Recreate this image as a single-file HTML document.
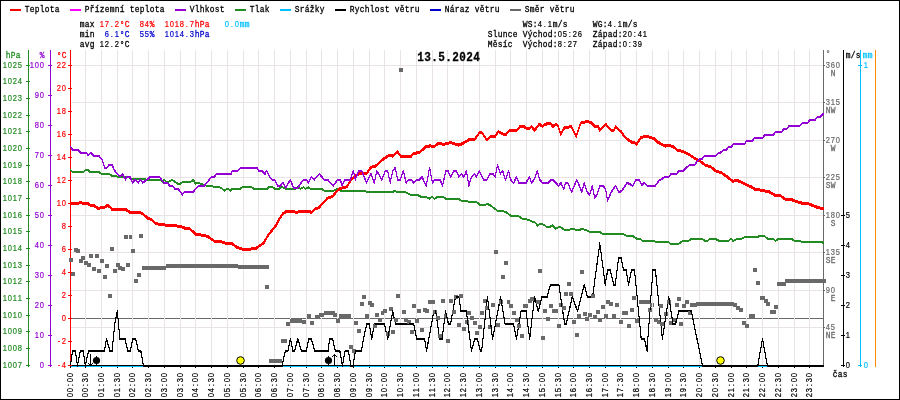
<!DOCTYPE html>
<html lang="cs"><head><meta charset="utf-8"><title>Meteogram 13.5.2024</title>
<style>html,body{margin:0;padding:0;background:#fff;overflow:hidden}svg{display:block}text{font-family:"Liberation Mono", "DejaVu Sans Mono", monospace;font-size:9px;letter-spacing:0.28px;font-weight:normal;white-space:pre;stroke-width:0.3px}.g{stroke-width:0.28px}.t{font-size:12.5px;letter-spacing:0.45px;font-weight:bold;stroke-width:0.3px}.x{stroke-width:0.25px}.n{font-family:"Liberation Sans",sans-serif;letter-spacing:0;font-size:8.6px;stroke-width:0.2px}</style></head><body>
<svg width="900" height="400" viewBox="0 0 900 400">
<rect x="0" y="0" width="900" height="400" fill="#fff"/>
<g shape-rendering="crispEdges">
<rect x="71" y="65" width="752" height="1" fill="#e9e3e3"/>
<rect x="71" y="102" width="752" height="1" fill="#e9e3e3"/>
<rect x="71" y="140" width="752" height="1" fill="#e9e3e3"/>
<rect x="71" y="177" width="752" height="1" fill="#e9e3e3"/>
<rect x="71" y="215" width="752" height="1" fill="#e9e3e3"/>
<rect x="71" y="252" width="752" height="1" fill="#e9e3e3"/>
<rect x="71" y="290" width="752" height="1" fill="#e9e3e3"/>
<rect x="71" y="327" width="752" height="1" fill="#e9e3e3"/>
<rect x="71" y="318" width="752" height="1" fill="#696969"/>
<rect x="85" y="50" width="1" height="315" fill="#e9e3e3"/>
<rect x="101" y="50" width="1" height="315" fill="#e9e3e3"/>
<rect x="117" y="50" width="1" height="315" fill="#e9e3e3"/>
<rect x="132" y="50" width="1" height="315" fill="#e9e3e3"/>
<rect x="148" y="50" width="1" height="315" fill="#e9e3e3"/>
<rect x="164" y="50" width="1" height="315" fill="#e9e3e3"/>
<rect x="180" y="50" width="1" height="315" fill="#e9e3e3"/>
<rect x="195" y="50" width="1" height="315" fill="#e9e3e3"/>
<rect x="211" y="50" width="1" height="315" fill="#e9e3e3"/>
<rect x="227" y="50" width="1" height="315" fill="#e9e3e3"/>
<rect x="243" y="50" width="1" height="315" fill="#e9e3e3"/>
<rect x="258" y="50" width="1" height="315" fill="#e9e3e3"/>
<rect x="274" y="50" width="1" height="315" fill="#e9e3e3"/>
<rect x="290" y="50" width="1" height="315" fill="#e9e3e3"/>
<rect x="306" y="50" width="1" height="315" fill="#e9e3e3"/>
<rect x="321" y="50" width="1" height="315" fill="#e9e3e3"/>
<rect x="337" y="50" width="1" height="315" fill="#e9e3e3"/>
<rect x="353" y="50" width="1" height="315" fill="#e9e3e3"/>
<rect x="369" y="50" width="1" height="315" fill="#e9e3e3"/>
<rect x="384" y="50" width="1" height="315" fill="#e9e3e3"/>
<rect x="400" y="50" width="1" height="315" fill="#e9e3e3"/>
<rect x="416" y="50" width="1" height="315" fill="#e9e3e3"/>
<rect x="432" y="50" width="1" height="315" fill="#e9e3e3"/>
<rect x="447" y="50" width="1" height="315" fill="#e9e3e3"/>
<rect x="463" y="50" width="1" height="315" fill="#e9e3e3"/>
<rect x="479" y="50" width="1" height="315" fill="#e9e3e3"/>
<rect x="495" y="50" width="1" height="315" fill="#e9e3e3"/>
<rect x="510" y="50" width="1" height="315" fill="#e9e3e3"/>
<rect x="526" y="50" width="1" height="315" fill="#e9e3e3"/>
<rect x="542" y="50" width="1" height="315" fill="#e9e3e3"/>
<rect x="558" y="50" width="1" height="315" fill="#e9e3e3"/>
<rect x="573" y="50" width="1" height="315" fill="#e9e3e3"/>
<rect x="589" y="50" width="1" height="315" fill="#e9e3e3"/>
<rect x="605" y="50" width="1" height="315" fill="#e9e3e3"/>
<rect x="620" y="50" width="1" height="315" fill="#e9e3e3"/>
<rect x="636" y="50" width="1" height="315" fill="#e9e3e3"/>
<rect x="652" y="50" width="1" height="315" fill="#e9e3e3"/>
<rect x="668" y="50" width="1" height="315" fill="#e9e3e3"/>
<rect x="683" y="50" width="1" height="315" fill="#e9e3e3"/>
<rect x="699" y="50" width="1" height="315" fill="#e9e3e3"/>
<rect x="715" y="50" width="1" height="315" fill="#e9e3e3"/>
<rect x="731" y="50" width="1" height="315" fill="#e9e3e3"/>
<rect x="746" y="50" width="1" height="315" fill="#e9e3e3"/>
<rect x="762" y="50" width="1" height="315" fill="#e9e3e3"/>
<rect x="778" y="50" width="1" height="315" fill="#e9e3e3"/>
<rect x="794" y="50" width="1" height="315" fill="#e9e3e3"/>
<rect x="809" y="50" width="1" height="315" fill="#e9e3e3"/>
</g>
<g shape-rendering="crispEdges" fill="#696969">
<rect x="69" y="258" width="4" height="4"/>
<rect x="71" y="272" width="4" height="4"/>
<rect x="74" y="248" width="4" height="4"/>
<rect x="76" y="249" width="4" height="4"/>
<rect x="79" y="259" width="4" height="4"/>
<rect x="81" y="256" width="4" height="4"/>
<rect x="84" y="261" width="4" height="4"/>
<rect x="87" y="263" width="4" height="4"/>
<rect x="89" y="254" width="4" height="4"/>
<rect x="92" y="267" width="4" height="4"/>
<rect x="95" y="254" width="4" height="4"/>
<rect x="97" y="269" width="4" height="4"/>
<rect x="100" y="259" width="4" height="4"/>
<rect x="103" y="275" width="4" height="4"/>
<rect x="105" y="264" width="4" height="4"/>
<rect x="108" y="294" width="4" height="4"/>
<rect x="110" y="247" width="4" height="4"/>
<rect x="113" y="269" width="4" height="4"/>
<rect x="116" y="263" width="4" height="4"/>
<rect x="118" y="266" width="4" height="4"/>
<rect x="121" y="267" width="4" height="4"/>
<rect x="124" y="235" width="4" height="4"/>
<rect x="126" y="263" width="4" height="4"/>
<rect x="129" y="235" width="4" height="4"/>
<rect x="131" y="249" width="4" height="4"/>
<rect x="134" y="279" width="4" height="4"/>
<rect x="137" y="273" width="4" height="4"/>
<rect x="139" y="234" width="4" height="4"/>
<rect x="265" y="285" width="4" height="4"/>
<rect x="286" y="322" width="4" height="4"/>
<rect x="302" y="320" width="4" height="4"/>
<rect x="307" y="314" width="4" height="4"/>
<rect x="310" y="321" width="4" height="4"/>
<rect x="333" y="313" width="4" height="4"/>
<rect x="336" y="319" width="4" height="4"/>
<rect x="354" y="321" width="4" height="4"/>
<rect x="357" y="329" width="4" height="4"/>
<rect x="360" y="302" width="4" height="4"/>
<rect x="362" y="295" width="4" height="4"/>
<rect x="365" y="314" width="4" height="4"/>
<rect x="368" y="301" width="4" height="4"/>
<rect x="349" y="345" width="4" height="4"/>
<rect x="352" y="349" width="4" height="4"/>
<rect x="370" y="303" width="4" height="4"/>
<rect x="373" y="324" width="4" height="4"/>
<rect x="375" y="313" width="4" height="4"/>
<rect x="378" y="318" width="4" height="4"/>
<rect x="381" y="311" width="4" height="4"/>
<rect x="383" y="309" width="4" height="4"/>
<rect x="386" y="332" width="4" height="4"/>
<rect x="389" y="307" width="4" height="4"/>
<rect x="391" y="330" width="4" height="4"/>
<rect x="394" y="318" width="4" height="4"/>
<rect x="402" y="310" width="4" height="4"/>
<rect x="404" y="318" width="4" height="4"/>
<rect x="407" y="320" width="4" height="4"/>
<rect x="410" y="330" width="4" height="4"/>
<rect x="412" y="304" width="4" height="4"/>
<rect x="415" y="319" width="4" height="4"/>
<rect x="417" y="309" width="4" height="4"/>
<rect x="420" y="328" width="4" height="4"/>
<rect x="423" y="308" width="4" height="4"/>
<rect x="425" y="309" width="4" height="4"/>
<rect x="433" y="310" width="4" height="4"/>
<rect x="436" y="316" width="4" height="4"/>
<rect x="438" y="334" width="4" height="4"/>
<rect x="441" y="299" width="4" height="4"/>
<rect x="444" y="314" width="4" height="4"/>
<rect x="446" y="339" width="4" height="4"/>
<rect x="449" y="299" width="4" height="4"/>
<rect x="452" y="310" width="4" height="4"/>
<rect x="457" y="323" width="4" height="4"/>
<rect x="462" y="327" width="4" height="4"/>
<rect x="465" y="320" width="4" height="4"/>
<rect x="467" y="311" width="4" height="4"/>
<rect x="470" y="316" width="4" height="4"/>
<rect x="473" y="321" width="4" height="4"/>
<rect x="475" y="331" width="4" height="4"/>
<rect x="478" y="325" width="4" height="4"/>
<rect x="480" y="311" width="4" height="4"/>
<rect x="483" y="299" width="4" height="4"/>
<rect x="485" y="306" width="4" height="4"/>
<rect x="488" y="325" width="4" height="4"/>
<rect x="396" y="294" width="4" height="4"/>
<rect x="459" y="294" width="4" height="4"/>
<rect x="454" y="295" width="4" height="4"/>
<rect x="494" y="250" width="4" height="4"/>
<rect x="491" y="303" width="4" height="4"/>
<rect x="499" y="300" width="4" height="4"/>
<rect x="504" y="261" width="4" height="4"/>
<rect x="501" y="275" width="4" height="4"/>
<rect x="507" y="300" width="4" height="4"/>
<rect x="509" y="304" width="4" height="4"/>
<rect x="528" y="299" width="4" height="4"/>
<rect x="530" y="297" width="4" height="4"/>
<rect x="536" y="300" width="4" height="4"/>
<rect x="538" y="269" width="4" height="4"/>
<rect x="549" y="304" width="4" height="4"/>
<rect x="559" y="303" width="4" height="4"/>
<rect x="564" y="292" width="4" height="4"/>
<rect x="567" y="282" width="4" height="4"/>
<rect x="569" y="292" width="4" height="4"/>
<rect x="580" y="270" width="4" height="4"/>
<rect x="480" y="311" width="4" height="4"/>
<rect x="496" y="323" width="4" height="4"/>
<rect x="512" y="311" width="4" height="4"/>
<rect x="515" y="318" width="4" height="4"/>
<rect x="517" y="324" width="4" height="4"/>
<rect x="520" y="334" width="4" height="4"/>
<rect x="541" y="336" width="4" height="4"/>
<rect x="543" y="309" width="4" height="4"/>
<rect x="546" y="317" width="4" height="4"/>
<rect x="557" y="324" width="4" height="4"/>
<rect x="562" y="306" width="4" height="4"/>
<rect x="572" y="320" width="4" height="4"/>
<rect x="575" y="333" width="4" height="4"/>
<rect x="577" y="314" width="4" height="4"/>
<rect x="583" y="312" width="4" height="4"/>
<rect x="585" y="317" width="4" height="4"/>
<rect x="588" y="313" width="4" height="4"/>
<rect x="593" y="315" width="4" height="4"/>
<rect x="596" y="310" width="4" height="4"/>
<rect x="598" y="318" width="4" height="4"/>
<rect x="601" y="305" width="4" height="4"/>
<rect x="604" y="314" width="4" height="4"/>
<rect x="606" y="300" width="4" height="4"/>
<rect x="609" y="302" width="4" height="4"/>
<rect x="612" y="314" width="4" height="4"/>
<rect x="615" y="303" width="4" height="4"/>
<rect x="619" y="320" width="4" height="4"/>
<rect x="627" y="324" width="4" height="4"/>
<rect x="591" y="294" width="4" height="4"/>
<rect x="632" y="296" width="4" height="4"/>
<rect x="630" y="308" width="4" height="4"/>
<rect x="635" y="319" width="4" height="4"/>
<rect x="648" y="308" width="4" height="4"/>
<rect x="650" y="303" width="4" height="4"/>
<rect x="654" y="318" width="4" height="4"/>
<rect x="657" y="320" width="4" height="4"/>
<rect x="659" y="304" width="4" height="4"/>
<rect x="660" y="322" width="4" height="4"/>
<rect x="664" y="312" width="4" height="4"/>
<rect x="667" y="300" width="4" height="4"/>
<rect x="669" y="321" width="4" height="4"/>
<rect x="673" y="318" width="4" height="4"/>
<rect x="675" y="303" width="4" height="4"/>
<rect x="679" y="322" width="4" height="4"/>
<rect x="682" y="304" width="4" height="4"/>
<rect x="685" y="300" width="4" height="4"/>
<rect x="688" y="311" width="4" height="4"/>
<rect x="677" y="297" width="4" height="4"/>
<rect x="742" y="321" width="4" height="4"/>
<rect x="745" y="324" width="4" height="4"/>
<rect x="753" y="268" width="4" height="4"/>
<rect x="756" y="281" width="4" height="4"/>
<rect x="764" y="299" width="4" height="4"/>
<rect x="766" y="302" width="4" height="4"/>
<rect x="774" y="305" width="4" height="4"/>
<rect x="399" y="68" width="4" height="4"/>
<rect x="142" y="266" width="24" height="4"/>
<rect x="166" y="264" width="66" height="4"/>
<rect x="232" y="264" width="6" height="4"/>
<rect x="238" y="265" width="31" height="4"/>
<rect x="269" y="359" width="13" height="4"/>
<rect x="281" y="339" width="6" height="4"/>
<rect x="290" y="319" width="12" height="4"/>
<rect x="315" y="315" width="5" height="4"/>
<rect x="319" y="313" width="5" height="4"/>
<rect x="324" y="311" width="11" height="4"/>
<rect x="339" y="314" width="12" height="4"/>
<rect x="428" y="300" width="7" height="4"/>
<rect x="523" y="304" width="5" height="4"/>
<rect x="552" y="309" width="6" height="4"/>
<rect x="622" y="311" width="6" height="4"/>
<rect x="639" y="300" width="12" height="4"/>
<rect x="690" y="303" width="7" height="4"/>
<rect x="696" y="302" width="38" height="4"/>
<rect x="733" y="303" width="4" height="4"/>
<rect x="736" y="306" width="4" height="4"/>
<rect x="739" y="308" width="4" height="4"/>
<rect x="749" y="314" width="6" height="4"/>
<rect x="760" y="296" width="5" height="4"/>
<rect x="770" y="310" width="6" height="4"/>
<rect x="777" y="282" width="9" height="4"/>
<rect x="785" y="279" width="41" height="4"/>
</g>
<g shape-rendering="crispEdges">
<rect x="132" y="235" width="1" height="4" fill="#e9e3e3"/>
<rect x="384" y="311" width="1" height="4" fill="#e9e3e3"/>
<rect x="447" y="314" width="1" height="4" fill="#e9e3e3"/>
<rect x="510" y="300" width="1" height="4" fill="#e9e3e3"/>
<rect x="652" y="303" width="1" height="4" fill="#e9e3e3"/>
</g>
<g shape-rendering="crispEdges">
<rect x="70" y="50" width="1" height="317" fill="#ff0000"/>
<rect x="823" y="50" width="1" height="317" fill="#696969"/>
</g>
<g shape-rendering="crispEdges">
<rect x="70" y="366" width="754" height="1" fill="#00bfff"/>
</g>
<g shape-rendering="crispEdges">
<polyline points="70.5,169.7 72.6,171.4 83.4,171.4 86.0,169.3 87.6,169.3 90.1,171.4 98.5,171.4 101.9,173.4 109.4,173.4 111.9,175.0 116.1,175.0 117.8,176.7 128.6,176.7 131.2,178.4 137.9,178.9 140.4,178.1 143.7,178.4 147.1,179.4 160.5,179.4 162.1,181.1 164.1,179.4 166.3,181.1 168.8,181.1 172.2,179.2 174.7,181.1 178.0,183.4 179.7,183.4 183.1,181.4 190.6,181.4 193.4,179.4 195.3,183.1 198.1,182.2 202.3,183.9 206.5,185.3 211.7,185.3 213.4,186.4 219.3,186.4 224.8,190.1 227.6,188.1 230.1,190.1 232.6,188.1 240.2,188.1 243.5,186.4 251.1,186.4 253.6,188.1 267.0,188.1 269.5,186.4 272.3,186.4 274.8,188.1 279.5,188.1 282.0,186.4 285.4,188.4 294.6,188.4 297.9,186.8 300.5,188.4 303.5,186.8 305.8,188.4 308.0,186.8 310.5,188.4 321.4,188.4 324.2,190.1 333.9,190.1 338.1,188.1 340.6,190.1 365.1,190.1 366.8,191.4 392.7,191.4 394.9,190.1 396.9,191.4 405.3,191.4 408.4,193.2 411.7,194.6 417.6,194.6 420.9,196.2 426.0,196.2 429.3,198.3 431.8,196.2 434.3,198.3 437.7,196.2 442.7,196.2 446.0,198.3 458.6,198.3 461.1,200.1 466.1,200.1 468.6,201.3 476.2,201.3 480.4,204.6 484.5,204.6 487.1,203.3 491.2,205.4 497.1,210.1 500.5,210.5 505.5,211.3 510.5,215.0 515.5,215.5 518.0,215.0 522.2,218.3 528.9,219.2 532.3,221.4 534.8,221.4 537.3,225.0 539.8,223.4 542.3,223.4 546.7,226.3 550.0,226.3 552.1,224.9 555.9,228.3 559.3,226.0 565.1,229.6 568.5,229.6 571.0,228.3 573.5,228.3 576.0,229.6 579.3,229.6 581.9,228.3 586.0,229.6 589.4,231.3 599.4,231.3 602.8,233.3 622.9,233.3 626.2,235.0 632.1,235.0 637.1,238.5 640.5,238.8 642.1,240.2 653.0,240.2 655.5,241.4 668.1,241.4 670.6,243.4 678.1,243.4 681.5,241.4 683.3,240.5 688.4,240.2 691.7,238.3 701.8,238.3 705.1,240.5 707.6,240.2 710.1,238.3 715.2,238.3 719.3,240.5 728.6,240.2 731.1,238.3 733.2,240.5 736.9,238.5 741.1,238.3 745.3,236.3 757.9,236.3 760.4,235.0 763.7,235.2 767.9,238.3 772.9,238.3 775.4,240.2 778.8,238.3 791.3,238.3 794.7,240.2 799.7,240.2 802.2,241.4 821.5,241.4 823.5,242.7" fill="none" stroke="#228b22" stroke-width="1" stroke-linejoin="bevel" stroke-linecap="butt"/>
<polyline points="70.5,170.7 72.6,172.4 83.4,172.4 86.0,170.3 87.6,170.3 90.1,172.4 98.5,172.4 101.9,174.4 109.4,174.4 111.9,176.0 116.1,176.0 117.8,177.7 128.6,177.7 131.2,179.4 137.9,179.9 140.4,179.1 143.7,179.4 147.1,180.4 160.5,180.4 162.1,182.1 164.1,180.4 166.3,182.1 168.8,182.1 172.2,180.2 174.7,182.1 178.0,184.4 179.7,184.4 183.1,182.4 190.6,182.4 193.4,180.4 195.3,184.1 198.1,183.2 202.3,184.9 206.5,186.3 211.7,186.3 213.4,187.4 219.3,187.4 224.8,191.1 227.6,189.1 230.1,191.1 232.6,189.1 240.2,189.1 243.5,187.4 251.1,187.4 253.6,189.1 267.0,189.1 269.5,187.4 272.3,187.4 274.8,189.1 279.5,189.1 282.0,187.4 285.4,189.4 294.6,189.4 297.9,187.8 300.5,189.4 303.5,187.8 305.8,189.4 308.0,187.8 310.5,189.4 321.4,189.4 324.2,191.1 333.9,191.1 338.1,189.1 340.6,191.1 365.1,191.1 366.8,192.4 392.7,192.4 394.9,191.1 396.9,192.4 405.3,192.4 408.4,194.2 411.7,195.6 417.6,195.6 420.9,197.2 426.0,197.2 429.3,199.3 431.8,197.2 434.3,199.3 437.7,197.2 442.7,197.2 446.0,199.3 458.6,199.3 461.1,201.1 466.1,201.1 468.6,202.3 476.2,202.3 480.4,205.6 484.5,205.6 487.1,204.3 491.2,206.4 497.1,211.1 500.5,211.5 505.5,212.3 510.5,216.0 515.5,216.5 518.0,216.0 522.2,219.3 528.9,220.2 532.3,222.4 534.8,222.4 537.3,226.0 539.8,224.4 542.3,224.4 546.7,227.3 550.0,227.3 552.1,225.9 555.9,229.3 559.3,227.0 565.1,230.6 568.5,230.6 571.0,229.3 573.5,229.3 576.0,230.6 579.3,230.6 581.9,229.3 586.0,230.6 589.4,232.3 599.4,232.3 602.8,234.3 622.9,234.3 626.2,236.0 632.1,236.0 637.1,239.5 640.5,239.8 642.1,241.2 653.0,241.2 655.5,242.4 668.1,242.4 670.6,244.4 678.1,244.4 681.5,242.4 683.3,241.5 688.4,241.2 691.7,239.3 701.8,239.3 705.1,241.5 707.6,241.2 710.1,239.3 715.2,239.3 719.3,241.5 728.6,241.2 731.1,239.3 733.2,241.5 736.9,239.5 741.1,239.3 745.3,237.3 757.9,237.3 760.4,236.0 763.7,236.2 767.9,239.3 772.9,239.3 775.4,241.2 778.8,239.3 791.3,239.3 794.7,241.2 799.7,241.2 802.2,242.4 821.5,242.4 823.5,243.7" fill="none" stroke="#228b22" stroke-width="1" stroke-linejoin="bevel" stroke-linecap="butt"/>
<path d="M70.5,169.2v2M72.6,170.9v2M83.4,170.9v2M86.0,168.8v2M87.6,168.8v2M90.1,170.9v2M98.5,170.9v2M101.9,172.9v2M109.4,172.9v2M111.9,174.5v2M116.1,174.5v2M117.8,176.2v2M128.6,176.2v2M131.2,177.9v2M137.9,178.4v2M140.4,177.6v2M143.7,177.9v2M147.1,178.9v2M160.5,178.9v2M162.1,180.6v2M164.1,178.9v2M166.3,180.6v2M168.8,180.6v2M172.2,178.7v2M174.7,180.6v2M178.0,182.9v2M179.7,182.9v2M183.1,180.9v2M190.6,180.9v2M193.4,178.9v2M195.3,182.6v2M198.1,181.7v2M202.3,183.4v2M206.5,184.8v2M211.7,184.8v2M213.4,185.9v2M219.3,185.9v2M224.8,189.6v2M227.6,187.6v2M230.1,189.6v2M232.6,187.6v2M240.2,187.6v2M243.5,185.9v2M251.1,185.9v2M253.6,187.6v2M267.0,187.6v2M269.5,185.9v2M272.3,185.9v2M274.8,187.6v2M279.5,187.6v2M282.0,185.9v2M285.4,187.9v2M294.6,187.9v2M297.9,186.3v2M300.5,187.9v2M303.5,186.3v2M305.8,187.9v2M308.0,186.3v2M310.5,187.9v2M321.4,187.9v2M324.2,189.6v2M333.9,189.6v2M338.1,187.6v2M340.6,189.6v2M365.1,189.6v2M366.8,190.9v2M392.7,190.9v2M394.9,189.6v2M396.9,190.9v2M405.3,190.9v2M408.4,192.7v2M411.7,194.1v2M417.6,194.1v2M420.9,195.7v2M426.0,195.7v2M429.3,197.8v2M431.8,195.7v2M434.3,197.8v2M437.7,195.7v2M442.7,195.7v2M446.0,197.8v2M458.6,197.8v2M461.1,199.6v2M466.1,199.6v2M468.6,200.8v2M476.2,200.8v2M480.4,204.1v2M484.5,204.1v2M487.1,202.8v2M491.2,204.9v2M497.1,209.6v2M500.5,210.0v2M505.5,210.8v2M510.5,214.5v2M515.5,215.0v2M518.0,214.5v2M522.2,217.8v2M528.9,218.7v2M532.3,220.9v2M534.8,220.9v2M537.3,224.5v2M539.8,222.9v2M542.3,222.9v2M546.7,225.8v2M550.0,225.8v2M552.1,224.4v2M555.9,227.8v2M559.3,225.5v2M565.1,229.1v2M568.5,229.1v2M571.0,227.8v2M573.5,227.8v2M576.0,229.1v2M579.3,229.1v2M581.9,227.8v2M586.0,229.1v2M589.4,230.8v2M599.4,230.8v2M602.8,232.8v2M622.9,232.8v2M626.2,234.5v2M632.1,234.5v2M637.1,238.0v2M640.5,238.3v2M642.1,239.7v2M653.0,239.7v2M655.5,240.9v2M668.1,240.9v2M670.6,242.9v2M678.1,242.9v2M681.5,240.9v2M683.3,240.0v2M688.4,239.7v2M691.7,237.8v2M701.8,237.8v2M705.1,240.0v2M707.6,239.7v2M710.1,237.8v2M715.2,237.8v2M719.3,240.0v2M728.6,239.7v2M731.1,237.8v2M733.2,240.0v2M736.9,238.0v2M741.1,237.8v2M745.3,235.8v2M757.9,235.8v2M760.4,234.5v2M763.7,234.7v2M767.9,237.8v2M772.9,237.8v2M775.4,239.7v2M778.8,237.8v2M791.3,237.8v2M794.7,239.7v2M799.7,239.7v2M802.2,240.9v2M821.5,240.9v2M823.5,242.2v2" stroke="#228b22" stroke-width="1" fill="none"/>
</g>
<g shape-rendering="crispEdges">
<polyline points="70.5,202.4 78.4,202.4 80.4,201.2 82.6,202.4 87.6,202.4 91.0,204.4 94.3,204.9 98.8,207.8 101.9,206.2 104.4,206.2 107.4,204.4 109.4,205.4 111.9,208.3 125.3,208.3 130.3,211.6 133.7,211.1 138.7,211.1 142.9,212.8 147.9,217.5 151.2,218.3 155.4,222.5 162.1,223.7 170.5,224.5 180.5,225.3 184.7,227.0 189.7,227.8 196.4,233.7 204.0,234.2 208.4,235.9 214.2,240.1 220.1,240.6 226.0,242.2 231.8,242.6 236.8,246.3 242.7,248.1 250.2,248.1 256.1,247.1 263.6,242.2 267.0,235.9 272.0,229.2 276.2,224.2 279.5,217.5 282.9,212.9 286.2,210.4 292.9,210.4 296.3,211.6 300.5,210.4 309.7,210.4 311.3,211.6 314.7,208.3 318.9,206.6 327.2,197.4 332.3,195.7 337.3,189.8 340.0,187.6 346.7,185.9 350.9,179.2 354.2,175.9 357.6,173.4 360.9,172.2 366.8,172.2 371.0,166.2 375.2,165.5 381.9,159.1 389.4,154.1 392.7,155.0 397.4,150.8 401.1,155.8 411.2,155.0 413.7,152.4 419.5,151.6 426.2,145.4 430.4,144.9 433.8,145.7 437.9,142.7 444.6,143.2 450.5,141.6 458.9,144.1 463.0,142.4 468.9,138.7 474.8,138.2 479.8,131.2 482.5,132.4 486.7,138.8 490.9,135.5 495.1,135.0 498.4,130.8 503.4,133.3 506.0,133.3 509.3,129.4 516.8,129.4 520.2,125.4 523.5,125.4 526.9,127.4 529.4,127.4 531.6,125.4 534.4,129.4 539.4,123.2 542.3,125.4 545.3,123.2 550.3,122.4 552.8,125.4 556.2,123.2 557.9,124.9 560.7,133.3 564.6,126.6 571.3,125.7 576.3,135.5 580.5,122.1 587.2,120.4 591.3,121.6 594.7,125.4 598.0,125.4 599.7,129.1 605.6,123.2 611.4,129.4 613.9,129.4 615.6,125.7 619.0,129.1 621.5,130.8 624.0,135.3 627.4,138.3 631.7,141.1 634.2,141.1 636.7,143.3 640.9,136.6 645.1,135.2 650.1,136.2 654.3,137.8 657.7,141.1 665.2,145.0 669.4,144.1 673.6,146.1 677.8,149.5 682.8,150.3 688.6,153.3 693.7,156.7 698.7,159.2 705.4,164.2 711.2,166.2 716.3,170.4 721.3,171.7 727.2,175.9 733.0,180.4 736.4,179.3 742.2,181.3 745.0,183.2 750.9,185.7 755.1,188.3 760.9,189.1 769.3,190.8 775.2,194.4 780.2,194.4 785.2,198.3 791.9,198.8 796.9,200.8 801.9,202.0 808.6,202.8 817.0,206.2 823.5,207.8" fill="none" stroke="#ff0000" stroke-width="1" stroke-linejoin="bevel" stroke-linecap="butt"/>
<polyline points="70.5,203.4 78.4,203.4 80.4,202.2 82.6,203.4 87.6,203.4 91.0,205.4 94.3,205.9 98.8,208.8 101.9,207.2 104.4,207.2 107.4,205.4 109.4,206.4 111.9,209.3 125.3,209.3 130.3,212.6 133.7,212.1 138.7,212.1 142.9,213.8 147.9,218.5 151.2,219.3 155.4,223.5 162.1,224.7 170.5,225.5 180.5,226.3 184.7,228.0 189.7,228.8 196.4,234.7 204.0,235.2 208.4,236.9 214.2,241.1 220.1,241.6 226.0,243.2 231.8,243.6 236.8,247.3 242.7,249.1 250.2,249.1 256.1,248.1 263.6,243.2 267.0,236.9 272.0,230.2 276.2,225.2 279.5,218.5 282.9,213.9 286.2,211.4 292.9,211.4 296.3,212.6 300.5,211.4 309.7,211.4 311.3,212.6 314.7,209.3 318.9,207.6 327.2,198.4 332.3,196.7 337.3,190.8 340.0,188.6 346.7,186.9 350.9,180.2 354.2,176.9 357.6,174.4 360.9,173.2 366.8,173.2 371.0,167.2 375.2,166.5 381.9,160.1 389.4,155.1 392.7,156.0 397.4,151.8 401.1,156.8 411.2,156.0 413.7,153.4 419.5,152.6 426.2,146.4 430.4,145.9 433.8,146.7 437.9,143.7 444.6,144.2 450.5,142.6 458.9,145.1 463.0,143.4 468.9,139.7 474.8,139.2 479.8,132.2 482.5,133.4 486.7,139.8 490.9,136.5 495.1,136.0 498.4,131.8 503.4,134.3 506.0,134.3 509.3,130.4 516.8,130.4 520.2,126.4 523.5,126.4 526.9,128.4 529.4,128.4 531.6,126.4 534.4,130.4 539.4,124.2 542.3,126.4 545.3,124.2 550.3,123.4 552.8,126.4 556.2,124.2 557.9,125.9 560.7,134.3 564.6,127.6 571.3,126.7 576.3,136.5 580.5,123.1 587.2,121.4 591.3,122.6 594.7,126.4 598.0,126.4 599.7,130.1 605.6,124.2 611.4,130.4 613.9,130.4 615.6,126.7 619.0,130.1 621.5,131.8 624.0,136.3 627.4,139.3 631.7,142.1 634.2,142.1 636.7,144.3 640.9,137.6 645.1,136.2 650.1,137.2 654.3,138.8 657.7,142.1 665.2,146.0 669.4,145.1 673.6,147.1 677.8,150.5 682.8,151.3 688.6,154.3 693.7,157.7 698.7,160.2 705.4,165.2 711.2,167.2 716.3,171.4 721.3,172.7 727.2,176.9 733.0,181.4 736.4,180.3 742.2,182.3 745.0,184.2 750.9,186.7 755.1,189.3 760.9,190.1 769.3,191.8 775.2,195.4 780.2,195.4 785.2,199.3 791.9,199.8 796.9,201.8 801.9,203.0 808.6,203.8 817.0,207.2 823.5,208.8" fill="none" stroke="#ff0000" stroke-width="1" stroke-linejoin="bevel" stroke-linecap="butt"/>
<polyline points="70.5,204.4 78.4,204.4 80.4,203.2 82.6,204.4 87.6,204.4 91.0,206.4 94.3,206.9 98.8,209.8 101.9,208.2 104.4,208.2 107.4,206.4 109.4,207.4 111.9,210.3 125.3,210.3 130.3,213.6 133.7,213.1 138.7,213.1 142.9,214.8 147.9,219.5 151.2,220.3 155.4,224.5 162.1,225.7 170.5,226.5 180.5,227.3 184.7,229.0 189.7,229.8 196.4,235.7 204.0,236.2 208.4,237.9 214.2,242.1 220.1,242.6 226.0,244.2 231.8,244.6 236.8,248.3 242.7,250.1 250.2,250.1 256.1,249.1 263.6,244.2 267.0,237.9 272.0,231.2 276.2,226.2 279.5,219.5 282.9,214.9 286.2,212.4 292.9,212.4 296.3,213.6 300.5,212.4 309.7,212.4 311.3,213.6 314.7,210.3 318.9,208.6 327.2,199.4 332.3,197.7 337.3,191.8 340.0,189.6 346.7,187.9 350.9,181.2 354.2,177.9 357.6,175.4 360.9,174.2 366.8,174.2 371.0,168.2 375.2,167.5 381.9,161.1 389.4,156.1 392.7,157.0 397.4,152.8 401.1,157.8 411.2,157.0 413.7,154.4 419.5,153.6 426.2,147.4 430.4,146.9 433.8,147.7 437.9,144.7 444.6,145.2 450.5,143.6 458.9,146.1 463.0,144.4 468.9,140.7 474.8,140.2 479.8,133.2 482.5,134.4 486.7,140.8 490.9,137.5 495.1,137.0 498.4,132.8 503.4,135.3 506.0,135.3 509.3,131.4 516.8,131.4 520.2,127.4 523.5,127.4 526.9,129.4 529.4,129.4 531.6,127.4 534.4,131.4 539.4,125.2 542.3,127.4 545.3,125.2 550.3,124.4 552.8,127.4 556.2,125.2 557.9,126.9 560.7,135.3 564.6,128.6 571.3,127.7 576.3,137.5 580.5,124.1 587.2,122.4 591.3,123.6 594.7,127.4 598.0,127.4 599.7,131.1 605.6,125.2 611.4,131.4 613.9,131.4 615.6,127.7 619.0,131.1 621.5,132.8 624.0,137.3 627.4,140.3 631.7,143.1 634.2,143.1 636.7,145.3 640.9,138.6 645.1,137.2 650.1,138.2 654.3,139.8 657.7,143.1 665.2,147.0 669.4,146.1 673.6,148.1 677.8,151.5 682.8,152.3 688.6,155.3 693.7,158.7 698.7,161.2 705.4,166.2 711.2,168.2 716.3,172.4 721.3,173.7 727.2,177.9 733.0,182.4 736.4,181.3 742.2,183.3 745.0,185.2 750.9,187.7 755.1,190.3 760.9,191.1 769.3,192.8 775.2,196.4 780.2,196.4 785.2,200.3 791.9,200.8 796.9,202.8 801.9,204.0 808.6,204.8 817.0,208.2 823.5,209.8" fill="none" stroke="#ff0000" stroke-width="1" stroke-linejoin="bevel" stroke-linecap="butt"/>
<path d="M70.5,201.9v3M78.4,201.9v3M80.4,200.7v3M82.6,201.9v3M87.6,201.9v3M91.0,203.9v3M94.3,204.4v3M98.8,207.3v3M101.9,205.7v3M104.4,205.7v3M107.4,203.9v3M109.4,204.9v3M111.9,207.8v3M125.3,207.8v3M130.3,211.1v3M133.7,210.6v3M138.7,210.6v3M142.9,212.3v3M147.9,217.0v3M151.2,217.8v3M155.4,222.0v3M162.1,223.2v3M170.5,224.0v3M180.5,224.8v3M184.7,226.5v3M189.7,227.3v3M196.4,233.2v3M204.0,233.7v3M208.4,235.4v3M214.2,239.6v3M220.1,240.1v3M226.0,241.7v3M231.8,242.1v3M236.8,245.8v3M242.7,247.6v3M250.2,247.6v3M256.1,246.6v3M263.6,241.7v3M267.0,235.4v3M272.0,228.7v3M276.2,223.7v3M279.5,217.0v3M282.9,212.4v3M286.2,209.9v3M292.9,209.9v3M296.3,211.1v3M300.5,209.9v3M309.7,209.9v3M311.3,211.1v3M314.7,207.8v3M318.9,206.1v3M327.2,196.9v3M332.3,195.2v3M337.3,189.3v3M340.0,187.1v3M346.7,185.4v3M350.9,178.7v3M354.2,175.4v3M357.6,172.9v3M360.9,171.7v3M366.8,171.7v3M371.0,165.7v3M375.2,165.0v3M381.9,158.6v3M389.4,153.6v3M392.7,154.5v3M397.4,150.3v3M401.1,155.3v3M411.2,154.5v3M413.7,151.9v3M419.5,151.1v3M426.2,144.9v3M430.4,144.4v3M433.8,145.2v3M437.9,142.2v3M444.6,142.7v3M450.5,141.1v3M458.9,143.6v3M463.0,141.9v3M468.9,138.2v3M474.8,137.7v3M479.8,130.7v3M482.5,131.9v3M486.7,138.3v3M490.9,135.0v3M495.1,134.5v3M498.4,130.3v3M503.4,132.8v3M506.0,132.8v3M509.3,128.9v3M516.8,128.9v3M520.2,124.9v3M523.5,124.9v3M526.9,126.9v3M529.4,126.9v3M531.6,124.9v3M534.4,128.9v3M539.4,122.7v3M542.3,124.9v3M545.3,122.7v3M550.3,121.9v3M552.8,124.9v3M556.2,122.7v3M557.9,124.4v3M560.7,132.8v3M564.6,126.1v3M571.3,125.2v3M576.3,135.0v3M580.5,121.6v3M587.2,119.9v3M591.3,121.1v3M594.7,124.9v3M598.0,124.9v3M599.7,128.6v3M605.6,122.7v3M611.4,128.9v3M613.9,128.9v3M615.6,125.2v3M619.0,128.6v3M621.5,130.3v3M624.0,134.8v3M627.4,137.8v3M631.7,140.6v3M634.2,140.6v3M636.7,142.8v3M640.9,136.1v3M645.1,134.7v3M650.1,135.7v3M654.3,137.3v3M657.7,140.6v3M665.2,144.5v3M669.4,143.6v3M673.6,145.6v3M677.8,149.0v3M682.8,149.8v3M688.6,152.8v3M693.7,156.2v3M698.7,158.7v3M705.4,163.7v3M711.2,165.7v3M716.3,169.9v3M721.3,171.2v3M727.2,175.4v3M733.0,179.9v3M736.4,178.8v3M742.2,180.8v3M745.0,182.7v3M750.9,185.2v3M755.1,187.8v3M760.9,188.6v3M769.3,190.3v3M775.2,193.9v3M780.2,193.9v3M785.2,197.8v3M791.9,198.3v3M796.9,200.3v3M801.9,201.5v3M808.6,202.3v3M817.0,205.7v3M823.5,207.3v3" stroke="#ff0000" stroke-width="1" fill="none"/>
</g>
<g shape-rendering="crispEdges">
<polyline points="70.5,146.2 72.6,149.3 77.6,149.3 80.9,152.1 86.0,152.1 88.5,154.9 90.5,152.1 93.5,155.1 98.5,155.1 101.9,158.8 104.9,167.2 106.9,167.2 109.4,164.2 111.9,164.2 114.9,170.5 118.6,174.7 120.6,175.5 122.3,173.4 125.6,179.2 127.0,176.4 130.3,176.4 132.3,182.2 135.3,179.2 138.4,182.2 140.0,179.2 142.9,182.2 146.2,179.7 150.4,176.4 159.6,176.4 163.8,182.2 167.1,182.2 169.7,185.1 172.2,185.1 174.7,188.1 178.0,188.1 182.2,194.0 184.7,191.4 193.1,191.4 198.1,185.6 204.0,185.6 207.5,181.4 211.4,176.4 214.2,176.4 216.7,173.4 231.0,173.4 232.6,170.2 237.7,170.2 240.7,167.2 256.9,167.2 258.6,170.2 261.9,170.2 265.0,173.4 266.6,170.2 270.3,177.2 272.3,179.2 274.5,179.2 277.9,185.6 280.0,185.6 282.9,182.2 285.7,187.3 290.4,179.2 293.4,187.3 297.9,187.3 300.5,183.1 303.8,179.2 306.3,179.2 308.5,182.2 311.3,176.4 314.2,179.2 319.4,173.4 324.2,179.2 327.6,179.2 333.1,185.3 337.6,179.2 340.3,179.2 342.0,184.7 345.0,179.2 350.0,179.2 353.4,170.5 355.4,179.2 358.4,170.5 361.8,170.5 366.5,182.2 371.0,173.4 374.3,182.2 376.8,170.5 381.9,179.2 385.2,170.5 387.7,170.5 390.2,182.2 392.7,170.5 395.2,167.2 397.8,179.2 400.3,179.2 403.3,170.2 406.1,182.2 408.6,179.2 411.2,179.2 413.7,182.2 417.0,179.2 419.5,179.2 422.0,176.4 426.2,185.3 429.6,167.2 432.4,182.2 434.6,179.2 440.1,179.2 442.5,185.3 445.8,170.5 448.0,170.5 450.8,176.4 453.8,170.5 456.4,170.5 458.9,176.4 461.4,173.4 463.9,176.4 466.4,170.5 468.9,185.3 471.4,176.4 474.8,173.4 476.5,176.4 479.3,170.5 482.0,176.3 484.2,179.7 486.7,179.7 490.0,173.0 492.6,173.0 495.1,176.3 497.6,164.3 500.4,173.0 502.6,170.1 505.4,179.7 508.5,170.1 510.5,178.8 513.5,182.7 516.5,176.3 518.8,182.2 526.0,182.2 529.4,176.3 531.6,182.2 534.4,178.8 537.4,170.1 539.4,178.8 542.8,182.7 547.8,182.7 551.2,179.2 552.8,179.2 558.7,185.5 560.9,182.2 563.7,188.9 565.4,182.7 567.9,182.7 571.6,191.7 576.8,179.2 581.8,191.4 584.1,182.7 587.2,191.4 589.7,194.4 592.2,185.5 594.7,197.3 597.2,193.9 599.7,185.2 603.1,185.2 605.6,188.6 607.6,200.1 611.4,191.4 615.6,185.2 619.0,191.7 621.5,190.6 627.0,182.5 629.8,183.4 632.6,185.6 635.9,179.4 639.3,179.4 641.8,184.8 644.3,182.3 647.6,185.3 655.2,185.3 659.3,179.8 665.2,176.4 668.6,176.4 671.1,173.4 676.9,173.4 678.6,170.6 682.8,170.6 689.5,164.4 694.5,164.4 699.5,158.3 702.0,158.3 704.5,155.5 715.4,155.5 718.8,152.1 720.5,152.1 723.8,149.3 726.3,149.3 728.8,146.3 731.3,146.3 733.8,143.3 744.7,143.3 746.7,140.2 752.6,140.2 754.7,137.2 762.6,137.2 765.1,134.2 773.5,134.2 775.5,131.3 781.9,131.3 783.9,128.3 786.9,128.3 788.9,125.5 799.4,125.5 802.8,122.1 807.8,122.1 810.0,119.3 815.3,119.3 817.4,116.2 820.4,116.2 823.5,113.2" fill="none" stroke="#9400d3" stroke-width="1" stroke-linejoin="bevel" stroke-linecap="butt"/>
<polyline points="70.5,147.2 72.6,150.3 77.6,150.3 80.9,153.1 86.0,153.1 88.5,155.9 90.5,153.1 93.5,156.1 98.5,156.1 101.9,159.8 104.9,168.2 106.9,168.2 109.4,165.2 111.9,165.2 114.9,171.5 118.6,175.7 120.6,176.5 122.3,174.4 125.6,180.2 127.0,177.4 130.3,177.4 132.3,183.2 135.3,180.2 138.4,183.2 140.0,180.2 142.9,183.2 146.2,180.7 150.4,177.4 159.6,177.4 163.8,183.2 167.1,183.2 169.7,186.1 172.2,186.1 174.7,189.1 178.0,189.1 182.2,195.0 184.7,192.4 193.1,192.4 198.1,186.6 204.0,186.6 207.5,182.4 211.4,177.4 214.2,177.4 216.7,174.4 231.0,174.4 232.6,171.2 237.7,171.2 240.7,168.2 256.9,168.2 258.6,171.2 261.9,171.2 265.0,174.4 266.6,171.2 270.3,178.2 272.3,180.2 274.5,180.2 277.9,186.6 280.0,186.6 282.9,183.2 285.7,188.3 290.4,180.2 293.4,188.3 297.9,188.3 300.5,184.1 303.8,180.2 306.3,180.2 308.5,183.2 311.3,177.4 314.2,180.2 319.4,174.4 324.2,180.2 327.6,180.2 333.1,186.3 337.6,180.2 340.3,180.2 342.0,185.7 345.0,180.2 350.0,180.2 353.4,171.5 355.4,180.2 358.4,171.5 361.8,171.5 366.5,183.2 371.0,174.4 374.3,183.2 376.8,171.5 381.9,180.2 385.2,171.5 387.7,171.5 390.2,183.2 392.7,171.5 395.2,168.2 397.8,180.2 400.3,180.2 403.3,171.2 406.1,183.2 408.6,180.2 411.2,180.2 413.7,183.2 417.0,180.2 419.5,180.2 422.0,177.4 426.2,186.3 429.6,168.2 432.4,183.2 434.6,180.2 440.1,180.2 442.5,186.3 445.8,171.5 448.0,171.5 450.8,177.4 453.8,171.5 456.4,171.5 458.9,177.4 461.4,174.4 463.9,177.4 466.4,171.5 468.9,186.3 471.4,177.4 474.8,174.4 476.5,177.4 479.3,171.5 482.0,177.3 484.2,180.7 486.7,180.7 490.0,174.0 492.6,174.0 495.1,177.3 497.6,165.3 500.4,174.0 502.6,171.1 505.4,180.7 508.5,171.1 510.5,179.8 513.5,183.7 516.5,177.3 518.8,183.2 526.0,183.2 529.4,177.3 531.6,183.2 534.4,179.8 537.4,171.1 539.4,179.8 542.8,183.7 547.8,183.7 551.2,180.2 552.8,180.2 558.7,186.5 560.9,183.2 563.7,189.9 565.4,183.7 567.9,183.7 571.6,192.7 576.8,180.2 581.8,192.4 584.1,183.7 587.2,192.4 589.7,195.4 592.2,186.5 594.7,198.3 597.2,194.9 599.7,186.2 603.1,186.2 605.6,189.6 607.6,201.1 611.4,192.4 615.6,186.2 619.0,192.7 621.5,191.6 627.0,183.5 629.8,184.4 632.6,186.6 635.9,180.4 639.3,180.4 641.8,185.8 644.3,183.3 647.6,186.3 655.2,186.3 659.3,180.8 665.2,177.4 668.6,177.4 671.1,174.4 676.9,174.4 678.6,171.6 682.8,171.6 689.5,165.4 694.5,165.4 699.5,159.3 702.0,159.3 704.5,156.5 715.4,156.5 718.8,153.1 720.5,153.1 723.8,150.3 726.3,150.3 728.8,147.3 731.3,147.3 733.8,144.3 744.7,144.3 746.7,141.2 752.6,141.2 754.7,138.2 762.6,138.2 765.1,135.2 773.5,135.2 775.5,132.3 781.9,132.3 783.9,129.3 786.9,129.3 788.9,126.5 799.4,126.5 802.8,123.1 807.8,123.1 810.0,120.3 815.3,120.3 817.4,117.2 820.4,117.2 823.5,114.2" fill="none" stroke="#9400d3" stroke-width="1" stroke-linejoin="bevel" stroke-linecap="butt"/>
<path d="M70.5,145.7v2M72.6,148.8v2M77.6,148.8v2M80.9,151.6v2M86.0,151.6v2M88.5,154.4v2M90.5,151.6v2M93.5,154.6v2M98.5,154.6v2M101.9,158.3v2M104.9,166.7v2M106.9,166.7v2M109.4,163.7v2M111.9,163.7v2M114.9,170.0v2M118.6,174.2v2M120.6,175.0v2M122.3,172.9v2M125.6,178.7v2M127.0,175.9v2M130.3,175.9v2M132.3,181.7v2M135.3,178.7v2M138.4,181.7v2M140.0,178.7v2M142.9,181.7v2M146.2,179.2v2M150.4,175.9v2M159.6,175.9v2M163.8,181.7v2M167.1,181.7v2M169.7,184.6v2M172.2,184.6v2M174.7,187.6v2M178.0,187.6v2M182.2,193.5v2M184.7,190.9v2M193.1,190.9v2M198.1,185.1v2M204.0,185.1v2M207.5,180.9v2M211.4,175.9v2M214.2,175.9v2M216.7,172.9v2M231.0,172.9v2M232.6,169.7v2M237.7,169.7v2M240.7,166.7v2M256.9,166.7v2M258.6,169.7v2M261.9,169.7v2M265.0,172.9v2M266.6,169.7v2M270.3,176.7v2M272.3,178.7v2M274.5,178.7v2M277.9,185.1v2M280.0,185.1v2M282.9,181.7v2M285.7,186.8v2M290.4,178.7v2M293.4,186.8v2M297.9,186.8v2M300.5,182.6v2M303.8,178.7v2M306.3,178.7v2M308.5,181.7v2M311.3,175.9v2M314.2,178.7v2M319.4,172.9v2M324.2,178.7v2M327.6,178.7v2M333.1,184.8v2M337.6,178.7v2M340.3,178.7v2M342.0,184.2v2M345.0,178.7v2M350.0,178.7v2M353.4,170.0v2M355.4,178.7v2M358.4,170.0v2M361.8,170.0v2M366.5,181.7v2M371.0,172.9v2M374.3,181.7v2M376.8,170.0v2M381.9,178.7v2M385.2,170.0v2M387.7,170.0v2M390.2,181.7v2M392.7,170.0v2M395.2,166.7v2M397.8,178.7v2M400.3,178.7v2M403.3,169.7v2M406.1,181.7v2M408.6,178.7v2M411.2,178.7v2M413.7,181.7v2M417.0,178.7v2M419.5,178.7v2M422.0,175.9v2M426.2,184.8v2M429.6,166.7v2M432.4,181.7v2M434.6,178.7v2M440.1,178.7v2M442.5,184.8v2M445.8,170.0v2M448.0,170.0v2M450.8,175.9v2M453.8,170.0v2M456.4,170.0v2M458.9,175.9v2M461.4,172.9v2M463.9,175.9v2M466.4,170.0v2M468.9,184.8v2M471.4,175.9v2M474.8,172.9v2M476.5,175.9v2M479.3,170.0v2M482.0,175.8v2M484.2,179.2v2M486.7,179.2v2M490.0,172.5v2M492.6,172.5v2M495.1,175.8v2M497.6,163.8v2M500.4,172.5v2M502.6,169.6v2M505.4,179.2v2M508.5,169.6v2M510.5,178.3v2M513.5,182.2v2M516.5,175.8v2M518.8,181.7v2M526.0,181.7v2M529.4,175.8v2M531.6,181.7v2M534.4,178.3v2M537.4,169.6v2M539.4,178.3v2M542.8,182.2v2M547.8,182.2v2M551.2,178.7v2M552.8,178.7v2M558.7,185.0v2M560.9,181.7v2M563.7,188.4v2M565.4,182.2v2M567.9,182.2v2M571.6,191.2v2M576.8,178.7v2M581.8,190.9v2M584.1,182.2v2M587.2,190.9v2M589.7,193.9v2M592.2,185.0v2M594.7,196.8v2M597.2,193.4v2M599.7,184.7v2M603.1,184.7v2M605.6,188.1v2M607.6,199.6v2M611.4,190.9v2M615.6,184.7v2M619.0,191.2v2M621.5,190.1v2M627.0,182.0v2M629.8,182.9v2M632.6,185.1v2M635.9,178.9v2M639.3,178.9v2M641.8,184.3v2M644.3,181.8v2M647.6,184.8v2M655.2,184.8v2M659.3,179.3v2M665.2,175.9v2M668.6,175.9v2M671.1,172.9v2M676.9,172.9v2M678.6,170.1v2M682.8,170.1v2M689.5,163.9v2M694.5,163.9v2M699.5,157.8v2M702.0,157.8v2M704.5,155.0v2M715.4,155.0v2M718.8,151.6v2M720.5,151.6v2M723.8,148.8v2M726.3,148.8v2M728.8,145.8v2M731.3,145.8v2M733.8,142.8v2M744.7,142.8v2M746.7,139.7v2M752.6,139.7v2M754.7,136.7v2M762.6,136.7v2M765.1,133.7v2M773.5,133.7v2M775.5,130.8v2M781.9,130.8v2M783.9,127.8v2M786.9,127.8v2M788.9,125.0v2M799.4,125.0v2M802.8,121.6v2M807.8,121.6v2M810.0,118.8v2M815.3,118.8v2M817.4,115.7v2M820.4,115.7v2M823.5,112.7v2" stroke="#9400d3" stroke-width="1" fill="none"/>
</g>
<g shape-rendering="crispEdges">
<polyline points="70.5,365.0 72.6,350.3 75.4,350.3 77.4,365.0 80.3,350.3 83.1,350.3 85.4,365.0 88.5,350.3 104.4,350.3 106.5,338.3 109.8,350.3 112.0,350.3 114.8,323.5 117.3,310.9 119.9,338.3 125.0,338.3 127.8,350.3 130.3,350.3 132.8,338.3 135.7,338.3 138.4,350.3 140.8,350.3 143.4,365.0 282.0,365.0 285.4,350.3 287.9,350.3 290.4,338.3 292.9,350.3 294.6,350.3 297.9,338.3 301.3,350.3 306.3,350.3 308.8,338.3 311.3,338.3 314.7,350.3 328.1,350.3 329.7,338.3 332.6,338.3 335.3,350.3 339.8,350.3 342.4,365.0 345.1,350.3 348.4,350.3 350.9,365.0 353.0,365.0 355.4,350.3 361.4,350.3 363.4,338.3 366.8,323.5 369.3,323.5 371.8,338.3 374.3,323.5 384.4,323.5 387.7,338.3 392.7,310.9 395.6,323.5 413.7,323.5 416.7,338.3 424.5,338.3 426.6,350.3 433.8,310.9 435.8,310.9 439.6,338.3 442.1,338.3 445.5,310.9 448.5,323.5 450.5,323.5 455.5,296.2 458.9,296.2 460.9,310.9 466.4,310.9 471.4,350.3 474.8,338.3 477.3,338.3 480.3,350.3 481.7,350.3 487.4,296.2 492.6,338.3 500.6,296.2 505.1,323.5 513.5,323.5 516.5,338.3 521.0,310.9 526.0,310.9 529.7,338.3 534.6,296.2 538.3,310.9 542.0,296.2 547.0,296.2 550.5,284.2 558.9,284.2 564.6,323.5 566.2,323.5 572.3,296.2 577.6,310.9 584.3,284.2 587.3,296.2 592.6,296.2 599.8,242.9 605.2,284.2 607.7,269.5 610.2,269.5 613.9,284.2 615.2,284.2 618.6,257.1 621.0,257.1 623.6,269.5 626.0,269.5 628.6,284.2 631.6,269.5 634.5,269.5 641.2,338.3 644.5,338.3 647.0,350.3 652.9,269.5 655.4,269.5 662.4,338.3 668.8,296.2 673.0,323.5 675.5,323.5 678.8,310.9 691.4,310.9 702.4,365.0 757.8,365.0 762.5,338.3 767.3,365.0 823.5,365.0" fill="none" stroke="#000000" stroke-width="1" stroke-linejoin="bevel" stroke-linecap="butt"/>
<polyline points="70.5,366.0 72.6,351.3 75.4,351.3 77.4,366.0 80.3,351.3 83.1,351.3 85.4,366.0 88.5,351.3 104.4,351.3 106.5,339.3 109.8,351.3 112.0,351.3 114.8,324.5 117.3,311.9 119.9,339.3 125.0,339.3 127.8,351.3 130.3,351.3 132.8,339.3 135.7,339.3 138.4,351.3 140.8,351.3 143.4,366.0 282.0,366.0 285.4,351.3 287.9,351.3 290.4,339.3 292.9,351.3 294.6,351.3 297.9,339.3 301.3,351.3 306.3,351.3 308.8,339.3 311.3,339.3 314.7,351.3 328.1,351.3 329.7,339.3 332.6,339.3 335.3,351.3 339.8,351.3 342.4,366.0 345.1,351.3 348.4,351.3 350.9,366.0 353.0,366.0 355.4,351.3 361.4,351.3 363.4,339.3 366.8,324.5 369.3,324.5 371.8,339.3 374.3,324.5 384.4,324.5 387.7,339.3 392.7,311.9 395.6,324.5 413.7,324.5 416.7,339.3 424.5,339.3 426.6,351.3 433.8,311.9 435.8,311.9 439.6,339.3 442.1,339.3 445.5,311.9 448.5,324.5 450.5,324.5 455.5,297.2 458.9,297.2 460.9,311.9 466.4,311.9 471.4,351.3 474.8,339.3 477.3,339.3 480.3,351.3 481.7,351.3 487.4,297.2 492.6,339.3 500.6,297.2 505.1,324.5 513.5,324.5 516.5,339.3 521.0,311.9 526.0,311.9 529.7,339.3 534.6,297.2 538.3,311.9 542.0,297.2 547.0,297.2 550.5,285.2 558.9,285.2 564.6,324.5 566.2,324.5 572.3,297.2 577.6,311.9 584.3,285.2 587.3,297.2 592.6,297.2 599.8,243.9 605.2,285.2 607.7,270.5 610.2,270.5 613.9,285.2 615.2,285.2 618.6,258.1 621.0,258.1 623.6,270.5 626.0,270.5 628.6,285.2 631.6,270.5 634.5,270.5 641.2,339.3 644.5,339.3 647.0,351.3 652.9,270.5 655.4,270.5 662.4,339.3 668.8,297.2 673.0,324.5 675.5,324.5 678.8,311.9 691.4,311.9 702.4,366.0 757.8,366.0 762.5,339.3 767.3,366.0 823.5,366.0" fill="none" stroke="#000000" stroke-width="1" stroke-linejoin="bevel" stroke-linecap="butt"/>
<path d="M70.5,364.5v2M72.6,349.8v2M75.4,349.8v2M77.4,364.5v2M80.3,349.8v2M83.1,349.8v2M85.4,364.5v2M88.5,349.8v2M104.4,349.8v2M106.5,337.8v2M109.8,349.8v2M112.0,349.8v2M114.8,323.0v2M117.3,310.4v2M119.9,337.8v2M125.0,337.8v2M127.8,349.8v2M130.3,349.8v2M132.8,337.8v2M135.7,337.8v2M138.4,349.8v2M140.8,349.8v2M143.4,364.5v2M282.0,364.5v2M285.4,349.8v2M287.9,349.8v2M290.4,337.8v2M292.9,349.8v2M294.6,349.8v2M297.9,337.8v2M301.3,349.8v2M306.3,349.8v2M308.8,337.8v2M311.3,337.8v2M314.7,349.8v2M328.1,349.8v2M329.7,337.8v2M332.6,337.8v2M335.3,349.8v2M339.8,349.8v2M342.4,364.5v2M345.1,349.8v2M348.4,349.8v2M350.9,364.5v2M353.0,364.5v2M355.4,349.8v2M361.4,349.8v2M363.4,337.8v2M366.8,323.0v2M369.3,323.0v2M371.8,337.8v2M374.3,323.0v2M384.4,323.0v2M387.7,337.8v2M392.7,310.4v2M395.6,323.0v2M413.7,323.0v2M416.7,337.8v2M424.5,337.8v2M426.6,349.8v2M433.8,310.4v2M435.8,310.4v2M439.6,337.8v2M442.1,337.8v2M445.5,310.4v2M448.5,323.0v2M450.5,323.0v2M455.5,295.7v2M458.9,295.7v2M460.9,310.4v2M466.4,310.4v2M471.4,349.8v2M474.8,337.8v2M477.3,337.8v2M480.3,349.8v2M481.7,349.8v2M487.4,295.7v2M492.6,337.8v2M500.6,295.7v2M505.1,323.0v2M513.5,323.0v2M516.5,337.8v2M521.0,310.4v2M526.0,310.4v2M529.7,337.8v2M534.6,295.7v2M538.3,310.4v2M542.0,295.7v2M547.0,295.7v2M550.5,283.7v2M558.9,283.7v2M564.6,323.0v2M566.2,323.0v2M572.3,295.7v2M577.6,310.4v2M584.3,283.7v2M587.3,295.7v2M592.6,295.7v2M599.8,242.4v2M605.2,283.7v2M607.7,269.0v2M610.2,269.0v2M613.9,283.7v2M615.2,283.7v2M618.6,256.6v2M621.0,256.6v2M623.6,269.0v2M626.0,269.0v2M628.6,283.7v2M631.6,269.0v2M634.5,269.0v2M641.2,337.8v2M644.5,337.8v2M647.0,349.8v2M652.9,269.0v2M655.4,269.0v2M662.4,337.8v2M668.8,295.7v2M673.0,323.0v2M675.5,323.0v2M678.8,310.4v2M691.4,310.4v2M702.4,364.5v2M757.8,364.5v2M762.5,337.8v2M767.3,364.5v2M823.5,364.5v2" stroke="#000000" stroke-width="1" fill="none"/>
</g>
<g shape-rendering="crispEdges" fill="#696969">
<rect x="69" y="258" width="2" height="4"/>
<rect x="71" y="272" width="2" height="4"/>
<rect x="74" y="248" width="2" height="4"/>
<rect x="76" y="249" width="2" height="4"/>
<rect x="79" y="259" width="2" height="4"/>
<rect x="81" y="256" width="2" height="4"/>
<rect x="84" y="261" width="2" height="4"/>
<rect x="87" y="263" width="2" height="4"/>
<rect x="89" y="254" width="2" height="4"/>
<rect x="92" y="267" width="2" height="4"/>
<rect x="95" y="254" width="2" height="4"/>
<rect x="97" y="269" width="2" height="4"/>
<rect x="100" y="259" width="2" height="4"/>
<rect x="103" y="275" width="2" height="4"/>
<rect x="105" y="264" width="2" height="4"/>
<rect x="108" y="294" width="2" height="4"/>
<rect x="110" y="247" width="2" height="4"/>
<rect x="113" y="269" width="2" height="4"/>
<rect x="116" y="263" width="2" height="4"/>
<rect x="118" y="266" width="2" height="4"/>
<rect x="121" y="267" width="2" height="4"/>
<rect x="126" y="263" width="2" height="4"/>
<rect x="131" y="249" width="2" height="4"/>
<rect x="134" y="279" width="2" height="4"/>
<rect x="137" y="273" width="2" height="4"/>
<rect x="265" y="285" width="2" height="4"/>
<rect x="286" y="322" width="2" height="4"/>
<rect x="302" y="320" width="2" height="4"/>
<rect x="307" y="314" width="2" height="4"/>
<rect x="310" y="321" width="2" height="4"/>
<rect x="333" y="313" width="2" height="4"/>
<rect x="336" y="319" width="2" height="4"/>
<rect x="354" y="321" width="2" height="4"/>
<rect x="357" y="329" width="2" height="4"/>
<rect x="360" y="302" width="2" height="4"/>
<rect x="362" y="295" width="2" height="4"/>
<rect x="365" y="314" width="2" height="4"/>
<rect x="368" y="301" width="2" height="4"/>
<rect x="349" y="345" width="2" height="4"/>
<rect x="352" y="349" width="2" height="4"/>
<rect x="370" y="303" width="2" height="4"/>
<rect x="373" y="324" width="2" height="4"/>
<rect x="375" y="313" width="2" height="4"/>
<rect x="378" y="318" width="2" height="4"/>
<rect x="381" y="311" width="2" height="4"/>
<rect x="383" y="309" width="2" height="4"/>
<rect x="386" y="332" width="2" height="4"/>
<rect x="389" y="307" width="2" height="4"/>
<rect x="391" y="330" width="2" height="4"/>
<rect x="394" y="318" width="2" height="4"/>
<rect x="402" y="310" width="2" height="4"/>
<rect x="404" y="318" width="2" height="4"/>
<rect x="407" y="320" width="2" height="4"/>
<rect x="410" y="330" width="2" height="4"/>
<rect x="412" y="304" width="2" height="4"/>
<rect x="415" y="319" width="2" height="4"/>
<rect x="417" y="309" width="2" height="4"/>
<rect x="420" y="328" width="2" height="4"/>
<rect x="423" y="308" width="2" height="4"/>
<rect x="425" y="309" width="2" height="4"/>
<rect x="433" y="310" width="2" height="4"/>
<rect x="436" y="316" width="2" height="4"/>
<rect x="438" y="334" width="2" height="4"/>
<rect x="441" y="299" width="2" height="4"/>
<rect x="444" y="314" width="2" height="4"/>
<rect x="446" y="339" width="2" height="4"/>
<rect x="449" y="299" width="2" height="4"/>
<rect x="452" y="310" width="2" height="4"/>
<rect x="457" y="323" width="2" height="4"/>
<rect x="462" y="327" width="2" height="4"/>
<rect x="465" y="320" width="2" height="4"/>
<rect x="467" y="311" width="2" height="4"/>
<rect x="470" y="316" width="2" height="4"/>
<rect x="473" y="321" width="2" height="4"/>
<rect x="475" y="331" width="2" height="4"/>
<rect x="478" y="325" width="2" height="4"/>
<rect x="480" y="311" width="2" height="4"/>
<rect x="483" y="299" width="2" height="4"/>
<rect x="485" y="306" width="2" height="4"/>
<rect x="488" y="325" width="2" height="4"/>
<rect x="396" y="294" width="2" height="4"/>
<rect x="459" y="294" width="2" height="4"/>
<rect x="454" y="295" width="2" height="4"/>
<rect x="494" y="250" width="2" height="4"/>
<rect x="491" y="303" width="2" height="4"/>
<rect x="499" y="300" width="2" height="4"/>
<rect x="504" y="261" width="2" height="4"/>
<rect x="501" y="275" width="2" height="4"/>
<rect x="507" y="300" width="2" height="4"/>
<rect x="509" y="304" width="2" height="4"/>
<rect x="528" y="299" width="2" height="4"/>
<rect x="530" y="297" width="2" height="4"/>
<rect x="536" y="300" width="2" height="4"/>
<rect x="538" y="269" width="2" height="4"/>
<rect x="549" y="304" width="2" height="4"/>
<rect x="559" y="303" width="2" height="4"/>
<rect x="564" y="292" width="2" height="4"/>
<rect x="567" y="282" width="2" height="4"/>
<rect x="569" y="292" width="2" height="4"/>
<rect x="580" y="270" width="2" height="4"/>
<rect x="480" y="311" width="2" height="4"/>
<rect x="496" y="323" width="2" height="4"/>
<rect x="512" y="311" width="2" height="4"/>
<rect x="515" y="318" width="2" height="4"/>
<rect x="517" y="324" width="2" height="4"/>
<rect x="520" y="334" width="2" height="4"/>
<rect x="541" y="336" width="2" height="4"/>
<rect x="543" y="309" width="2" height="4"/>
<rect x="546" y="317" width="2" height="4"/>
<rect x="557" y="324" width="2" height="4"/>
<rect x="562" y="306" width="2" height="4"/>
<rect x="572" y="320" width="2" height="4"/>
<rect x="575" y="333" width="2" height="4"/>
<rect x="577" y="314" width="2" height="4"/>
<rect x="583" y="312" width="2" height="4"/>
<rect x="585" y="317" width="2" height="4"/>
<rect x="588" y="313" width="2" height="4"/>
<rect x="593" y="315" width="2" height="4"/>
<rect x="596" y="310" width="2" height="4"/>
<rect x="598" y="318" width="2" height="4"/>
<rect x="601" y="305" width="2" height="4"/>
<rect x="604" y="314" width="2" height="4"/>
<rect x="606" y="300" width="2" height="4"/>
<rect x="609" y="302" width="2" height="4"/>
<rect x="612" y="314" width="2" height="4"/>
<rect x="615" y="303" width="2" height="4"/>
<rect x="619" y="320" width="2" height="4"/>
<rect x="627" y="324" width="2" height="4"/>
<rect x="591" y="294" width="2" height="4"/>
<rect x="632" y="296" width="2" height="4"/>
<rect x="630" y="308" width="2" height="4"/>
<rect x="635" y="319" width="2" height="4"/>
<rect x="648" y="308" width="2" height="4"/>
<rect x="650" y="303" width="2" height="4"/>
<rect x="654" y="318" width="2" height="4"/>
<rect x="657" y="320" width="2" height="4"/>
<rect x="659" y="304" width="2" height="4"/>
<rect x="660" y="322" width="2" height="4"/>
<rect x="664" y="312" width="2" height="4"/>
<rect x="667" y="300" width="2" height="4"/>
<rect x="669" y="321" width="2" height="4"/>
<rect x="673" y="318" width="2" height="4"/>
<rect x="675" y="303" width="2" height="4"/>
<rect x="679" y="322" width="2" height="4"/>
<rect x="682" y="304" width="2" height="4"/>
<rect x="685" y="300" width="2" height="4"/>
<rect x="688" y="311" width="2" height="4"/>
<rect x="677" y="297" width="2" height="4"/>
<rect x="742" y="321" width="2" height="4"/>
<rect x="745" y="324" width="2" height="4"/>
<rect x="753" y="268" width="2" height="4"/>
<rect x="756" y="281" width="2" height="4"/>
<rect x="764" y="299" width="2" height="4"/>
<rect x="766" y="302" width="2" height="4"/>
<rect x="774" y="305" width="2" height="4"/>
</g>
<text transform="translate(5.8 58) scale(0.88 1)" fill="#228b22" stroke="#228b22">hPa</text>
<text class="n" transform="translate(2.8 68) scale(0.88 1)" x="-0.00 5.68 11.36 17.04" fill="#228b22" stroke="#228b22">1025</text>
<text class="n" transform="translate(2.8 84) scale(0.88 1)" x="-0.00 5.68 11.36 17.04" fill="#228b22" stroke="#228b22">1024</text>
<text class="n" transform="translate(2.8 101) scale(0.88 1)" x="-0.00 5.68 11.36 17.04" fill="#228b22" stroke="#228b22">1023</text>
<text class="n" transform="translate(2.8 118) scale(0.88 1)" x="-0.00 5.68 11.36 17.04" fill="#228b22" stroke="#228b22">1022</text>
<text class="n" transform="translate(2.8 134) scale(0.88 1)" x="-0.00 5.68 11.36 17.04" fill="#228b22" stroke="#228b22">1021</text>
<text class="n" transform="translate(2.8 151) scale(0.88 1)" x="-0.00 5.68 11.36 17.04" fill="#228b22" stroke="#228b22">1020</text>
<text class="n" transform="translate(2.8 168) scale(0.88 1)" x="-0.00 5.68 11.36 17.04" fill="#228b22" stroke="#228b22">1019</text>
<text class="n" transform="translate(2.8 184) scale(0.88 1)" x="-0.00 5.68 11.36 17.04" fill="#228b22" stroke="#228b22">1018</text>
<text class="n" transform="translate(2.8 201) scale(0.88 1)" x="-0.00 5.68 11.36 17.04" fill="#228b22" stroke="#228b22">1017</text>
<text class="n" transform="translate(2.8 218) scale(0.88 1)" x="-0.00 5.68 11.36 17.04" fill="#228b22" stroke="#228b22">1016</text>
<text class="n" transform="translate(2.8 234) scale(0.88 1)" x="-0.00 5.68 11.36 17.04" fill="#228b22" stroke="#228b22">1015</text>
<text class="n" transform="translate(2.8 251) scale(0.88 1)" x="-0.00 5.68 11.36 17.04" fill="#228b22" stroke="#228b22">1014</text>
<text class="n" transform="translate(2.8 268) scale(0.88 1)" x="-0.00 5.68 11.36 17.04" fill="#228b22" stroke="#228b22">1013</text>
<text class="n" transform="translate(2.8 284) scale(0.88 1)" x="-0.00 5.68 11.36 17.04" fill="#228b22" stroke="#228b22">1012</text>
<text class="n" transform="translate(2.8 301) scale(0.88 1)" x="-0.00 5.68 11.36 17.04" fill="#228b22" stroke="#228b22">1011</text>
<text class="n" transform="translate(2.8 318) scale(0.88 1)" x="-0.00 5.68 11.36 17.04" fill="#228b22" stroke="#228b22">1010</text>
<text class="n" transform="translate(2.8 334) scale(0.88 1)" x="-0.00 5.68 11.36 17.04" fill="#228b22" stroke="#228b22">1009</text>
<text class="n" transform="translate(2.8 351) scale(0.88 1)" x="-0.00 5.68 11.36 17.04" fill="#228b22" stroke="#228b22">1008</text>
<text class="n" transform="translate(2.8 368) scale(0.88 1)" x="-0.00 5.68 11.36 17.04" fill="#228b22" stroke="#228b22">1007</text>
<text transform="translate(39.8 58) scale(0.88 1)" fill="#9400d3" stroke="#9400d3">%</text>
<text class="n" transform="translate(29.8 68) scale(0.88 1)" x="-0.00 5.68 11.36" fill="#9400d3" stroke="#9400d3">100</text>
<text class="n" transform="translate(34.8 98) scale(0.88 1)" x="-0.00 5.68" fill="#9400d3" stroke="#9400d3">90</text>
<text class="n" transform="translate(34.8 128) scale(0.88 1)" x="-0.00 5.68" fill="#9400d3" stroke="#9400d3">80</text>
<text class="n" transform="translate(34.8 158) scale(0.88 1)" x="-0.00 5.68" fill="#9400d3" stroke="#9400d3">70</text>
<text class="n" transform="translate(34.8 188) scale(0.88 1)" x="-0.00 5.68" fill="#9400d3" stroke="#9400d3">60</text>
<text class="n" transform="translate(34.8 218) scale(0.88 1)" x="-0.00 5.68" fill="#9400d3" stroke="#9400d3">50</text>
<text class="n" transform="translate(34.8 248) scale(0.88 1)" x="-0.00 5.68" fill="#9400d3" stroke="#9400d3">40</text>
<text class="n" transform="translate(34.8 278) scale(0.88 1)" x="-0.00 5.68" fill="#9400d3" stroke="#9400d3">30</text>
<text class="n" transform="translate(34.8 308) scale(0.88 1)" x="-0.00 5.68" fill="#9400d3" stroke="#9400d3">20</text>
<text class="n" transform="translate(34.8 338) scale(0.88 1)" x="-0.00 5.68" fill="#9400d3" stroke="#9400d3">10</text>
<text class="n" transform="translate(39.8 368) scale(0.88 1)" x="-0.00" fill="#9400d3" stroke="#9400d3">0</text>
<text transform="translate(56.8 58) scale(0.88 1)" fill="#ff0000" stroke="#ff0000">°C</text>
<text class="n" transform="translate(56.8 68) scale(0.88 1)" x="-0.00 5.68" fill="#ff0000" stroke="#ff0000">22</text>
<text class="n" transform="translate(56.8 91) scale(0.88 1)" x="-0.00 5.68" fill="#ff0000" stroke="#ff0000">20</text>
<text class="n" transform="translate(56.8 114) scale(0.88 1)" x="-0.00 5.68" fill="#ff0000" stroke="#ff0000">18</text>
<text class="n" transform="translate(56.8 137) scale(0.88 1)" x="-0.00 5.68" fill="#ff0000" stroke="#ff0000">16</text>
<text class="n" transform="translate(56.8 160) scale(0.88 1)" x="-0.00 5.68" fill="#ff0000" stroke="#ff0000">14</text>
<text class="n" transform="translate(56.8 183) scale(0.88 1)" x="-0.00 5.68" fill="#ff0000" stroke="#ff0000">12</text>
<text class="n" transform="translate(56.8 206) scale(0.88 1)" x="-0.00 5.68" fill="#ff0000" stroke="#ff0000">10</text>
<text class="n" transform="translate(61.8 229) scale(0.88 1)" x="-0.00" fill="#ff0000" stroke="#ff0000">8</text>
<text class="n" transform="translate(61.8 252) scale(0.88 1)" x="-0.00" fill="#ff0000" stroke="#ff0000">6</text>
<text class="n" transform="translate(61.8 275) scale(0.88 1)" x="-0.00" fill="#ff0000" stroke="#ff0000">4</text>
<text class="n" transform="translate(61.8 298) scale(0.88 1)" x="-0.00" fill="#ff0000" stroke="#ff0000">2</text>
<text class="n" transform="translate(61.8 321) scale(0.88 1)" x="-0.00" fill="#ff0000" stroke="#ff0000">0</text>
<text class="n" transform="translate(56.8 344) scale(0.88 1)" x="0.96 5.68" fill="#ff0000" stroke="#ff0000">-2</text>
<text class="n" transform="translate(56.8 368) scale(0.88 1)" x="0.96 5.68" fill="#ff0000" stroke="#ff0000">-4</text>
<text class="g" transform="translate(825.8 56) scale(0.88 1)" fill="#696969" stroke="#696969">°</text>
<text class="g n" transform="translate(825.8 68) scale(0.88 1)" x="-0.00 5.68 11.36" fill="#696969" stroke="#696969">360</text>
<text class="g" transform="translate(830.8 76) scale(0.88 1)" fill="#696969" stroke="#696969">N</text>
<text class="g n" transform="translate(825.8 105) scale(0.88 1)" x="-0.00 5.68 11.36" fill="#696969" stroke="#696969">315</text>
<text class="g" transform="translate(825.8 113) scale(0.88 1)" fill="#696969" stroke="#696969">NW</text>
<text class="g n" transform="translate(825.8 143) scale(0.88 1)" x="-0.00 5.68 11.36" fill="#696969" stroke="#696969">270</text>
<text class="g" transform="translate(830.8 151) scale(0.88 1)" fill="#696969" stroke="#696969">W</text>
<text class="g n" transform="translate(825.8 180) scale(0.88 1)" x="-0.00 5.68 11.36" fill="#696969" stroke="#696969">225</text>
<text class="g" transform="translate(825.8 188) scale(0.88 1)" fill="#696969" stroke="#696969">SW</text>
<text class="g n" transform="translate(825.8 218) scale(0.88 1)" x="-0.00 5.68 11.36" fill="#696969" stroke="#696969">180</text>
<text class="g" transform="translate(830.8 226) scale(0.88 1)" fill="#696969" stroke="#696969">S</text>
<text class="g n" transform="translate(825.8 255) scale(0.88 1)" x="-0.00 5.68 11.36" fill="#696969" stroke="#696969">135</text>
<text class="g" transform="translate(825.8 263) scale(0.88 1)" fill="#696969" stroke="#696969">SE</text>
<text class="g n" transform="translate(825.8 293) scale(0.88 1)" x="-0.00 5.68" fill="#696969" stroke="#696969">90</text>
<text class="g" transform="translate(830.8 301) scale(0.88 1)" fill="#696969" stroke="#696969">E</text>
<text class="g n" transform="translate(825.8 330) scale(0.88 1)" x="-0.00 5.68" fill="#696969" stroke="#696969">45</text>
<text class="g" transform="translate(825.8 338) scale(0.88 1)" fill="#696969" stroke="#696969">NE</text>
<text transform="translate(845.8 58) scale(0.88 1)" fill="#000000" stroke="#000000">m/s</text>
<text class="n" transform="translate(845.8 218) scale(0.88 1)" x="-0.00" fill="#000000" stroke="#000000">5</text>
<text class="n" transform="translate(845.8 248) scale(0.88 1)" x="-0.00" fill="#000000" stroke="#000000">4</text>
<text class="n" transform="translate(845.8 278) scale(0.88 1)" x="-0.00" fill="#000000" stroke="#000000">3</text>
<text class="n" transform="translate(845.8 308) scale(0.88 1)" x="-0.00" fill="#000000" stroke="#000000">2</text>
<text class="n" transform="translate(845.8 338) scale(0.88 1)" x="-0.00" fill="#000000" stroke="#000000">1</text>
<text class="n" transform="translate(845.8 368) scale(0.88 1)" x="-0.00" fill="#000000" stroke="#000000">0</text>
<text transform="translate(862.8 58) scale(0.88 1)" fill="#00bfff" stroke="#00bfff">mm</text>
<text class="n" transform="translate(863.8 68) scale(0.88 1)" x="-0.00" fill="#00bfff" stroke="#00bfff">1</text>
<text class="n" transform="translate(863.8 368) scale(0.88 1)" x="-0.00" fill="#00bfff" stroke="#00bfff">0</text>
<text transform="translate(832.8 377.3) scale(0.88 1)" fill="#000000" stroke="#000000">čas</text>
<g shape-rendering="crispEdges">
<rect x="70" y="365" width="754" height="1" fill="#000000"/>
<rect x="70" y="367" width="1" height="1" fill="#000000"/>
<rect x="85" y="367" width="1" height="1" fill="#000000"/>
<rect x="101" y="367" width="1" height="1" fill="#000000"/>
<rect x="117" y="367" width="1" height="1" fill="#000000"/>
<rect x="132" y="367" width="1" height="1" fill="#000000"/>
<rect x="148" y="367" width="1" height="1" fill="#000000"/>
<rect x="164" y="367" width="1" height="1" fill="#000000"/>
<rect x="180" y="367" width="1" height="1" fill="#000000"/>
<rect x="195" y="367" width="1" height="1" fill="#000000"/>
<rect x="211" y="367" width="1" height="1" fill="#000000"/>
<rect x="227" y="367" width="1" height="1" fill="#000000"/>
<rect x="243" y="367" width="1" height="1" fill="#000000"/>
<rect x="258" y="367" width="1" height="1" fill="#000000"/>
<rect x="274" y="367" width="1" height="1" fill="#000000"/>
<rect x="290" y="367" width="1" height="1" fill="#000000"/>
<rect x="306" y="367" width="1" height="1" fill="#000000"/>
<rect x="321" y="367" width="1" height="1" fill="#000000"/>
<rect x="337" y="367" width="1" height="1" fill="#000000"/>
<rect x="353" y="367" width="1" height="1" fill="#000000"/>
<rect x="369" y="367" width="1" height="1" fill="#000000"/>
<rect x="384" y="367" width="1" height="1" fill="#000000"/>
<rect x="400" y="367" width="1" height="1" fill="#000000"/>
<rect x="416" y="367" width="1" height="1" fill="#000000"/>
<rect x="432" y="367" width="1" height="1" fill="#000000"/>
<rect x="447" y="367" width="1" height="1" fill="#000000"/>
<rect x="463" y="367" width="1" height="1" fill="#000000"/>
<rect x="479" y="367" width="1" height="1" fill="#000000"/>
<rect x="495" y="367" width="1" height="1" fill="#000000"/>
<rect x="510" y="367" width="1" height="1" fill="#000000"/>
<rect x="526" y="367" width="1" height="1" fill="#000000"/>
<rect x="542" y="367" width="1" height="1" fill="#000000"/>
<rect x="558" y="367" width="1" height="1" fill="#000000"/>
<rect x="573" y="367" width="1" height="1" fill="#000000"/>
<rect x="589" y="367" width="1" height="1" fill="#000000"/>
<rect x="605" y="367" width="1" height="1" fill="#000000"/>
<rect x="620" y="367" width="1" height="1" fill="#000000"/>
<rect x="636" y="367" width="1" height="1" fill="#000000"/>
<rect x="652" y="367" width="1" height="1" fill="#000000"/>
<rect x="668" y="367" width="1" height="1" fill="#000000"/>
<rect x="683" y="367" width="1" height="1" fill="#000000"/>
<rect x="699" y="367" width="1" height="1" fill="#000000"/>
<rect x="715" y="367" width="1" height="1" fill="#000000"/>
<rect x="731" y="367" width="1" height="1" fill="#000000"/>
<rect x="746" y="367" width="1" height="1" fill="#000000"/>
<rect x="762" y="367" width="1" height="1" fill="#000000"/>
<rect x="778" y="367" width="1" height="1" fill="#000000"/>
<rect x="794" y="367" width="1" height="1" fill="#000000"/>
<rect x="809" y="367" width="1" height="1" fill="#000000"/>
<rect x="28" y="50" width="1" height="317" fill="#228b22"/>
<rect x="50" y="50" width="1" height="317" fill="#9400d3"/>
<rect x="843" y="50" width="1" height="317" fill="#000000"/>
<rect x="860" y="50" width="1" height="317" fill="#00bfff"/>
<rect x="875" y="50" width="1" height="317" fill="#ff8c00"/>
<rect x="26" y="65" width="4" height="1" fill="#228b22"/>
<rect x="26" y="81" width="4" height="1" fill="#228b22"/>
<rect x="26" y="98" width="4" height="1" fill="#228b22"/>
<rect x="26" y="115" width="4" height="1" fill="#228b22"/>
<rect x="26" y="131" width="4" height="1" fill="#228b22"/>
<rect x="26" y="148" width="4" height="1" fill="#228b22"/>
<rect x="26" y="165" width="4" height="1" fill="#228b22"/>
<rect x="26" y="181" width="4" height="1" fill="#228b22"/>
<rect x="26" y="198" width="4" height="1" fill="#228b22"/>
<rect x="26" y="215" width="4" height="1" fill="#228b22"/>
<rect x="26" y="231" width="4" height="1" fill="#228b22"/>
<rect x="26" y="248" width="4" height="1" fill="#228b22"/>
<rect x="26" y="265" width="4" height="1" fill="#228b22"/>
<rect x="26" y="281" width="4" height="1" fill="#228b22"/>
<rect x="26" y="298" width="4" height="1" fill="#228b22"/>
<rect x="26" y="315" width="4" height="1" fill="#228b22"/>
<rect x="26" y="331" width="4" height="1" fill="#228b22"/>
<rect x="26" y="348" width="4" height="1" fill="#228b22"/>
<rect x="26" y="365" width="4" height="1" fill="#228b22"/>
<rect x="48" y="65" width="4" height="1" fill="#9400d3"/>
<rect x="48" y="95" width="4" height="1" fill="#9400d3"/>
<rect x="48" y="125" width="4" height="1" fill="#9400d3"/>
<rect x="48" y="155" width="4" height="1" fill="#9400d3"/>
<rect x="48" y="185" width="4" height="1" fill="#9400d3"/>
<rect x="48" y="215" width="4" height="1" fill="#9400d3"/>
<rect x="48" y="245" width="4" height="1" fill="#9400d3"/>
<rect x="48" y="275" width="4" height="1" fill="#9400d3"/>
<rect x="48" y="305" width="4" height="1" fill="#9400d3"/>
<rect x="48" y="335" width="4" height="1" fill="#9400d3"/>
<rect x="48" y="365" width="4" height="1" fill="#9400d3"/>
<rect x="68" y="65" width="4" height="1" fill="#ff0000"/>
<rect x="68" y="88" width="4" height="1" fill="#ff0000"/>
<rect x="68" y="111" width="4" height="1" fill="#ff0000"/>
<rect x="68" y="134" width="4" height="1" fill="#ff0000"/>
<rect x="68" y="157" width="4" height="1" fill="#ff0000"/>
<rect x="68" y="180" width="4" height="1" fill="#ff0000"/>
<rect x="68" y="203" width="4" height="1" fill="#ff0000"/>
<rect x="68" y="226" width="4" height="1" fill="#ff0000"/>
<rect x="68" y="249" width="4" height="1" fill="#ff0000"/>
<rect x="68" y="272" width="4" height="1" fill="#ff0000"/>
<rect x="68" y="295" width="4" height="1" fill="#ff0000"/>
<rect x="68" y="318" width="4" height="1" fill="#ff0000"/>
<rect x="68" y="341" width="4" height="1" fill="#ff0000"/>
<rect x="68" y="365" width="4" height="1" fill="#ff0000"/>
<rect x="823" y="65" width="2" height="1" fill="#696969"/>
<rect x="823" y="102" width="2" height="1" fill="#696969"/>
<rect x="823" y="140" width="2" height="1" fill="#696969"/>
<rect x="823" y="177" width="2" height="1" fill="#696969"/>
<rect x="823" y="215" width="2" height="1" fill="#696969"/>
<rect x="823" y="252" width="2" height="1" fill="#696969"/>
<rect x="823" y="290" width="2" height="1" fill="#696969"/>
<rect x="823" y="327" width="2" height="1" fill="#696969"/>
<rect x="841" y="215" width="4" height="1" fill="#000000"/>
<rect x="841" y="245" width="4" height="1" fill="#000000"/>
<rect x="841" y="275" width="4" height="1" fill="#000000"/>
<rect x="841" y="305" width="4" height="1" fill="#000000"/>
<rect x="841" y="335" width="4" height="1" fill="#000000"/>
<rect x="841" y="365" width="4" height="1" fill="#000000"/>
<rect x="858" y="65" width="4" height="1" fill="#00bfff"/>
<rect x="858" y="365" width="4" height="1" fill="#00bfff"/>
</g>
<text class="x n" transform="translate(73 397.3) rotate(-90) scale(0.88 1)" x="-0.00 5.68 12.56 17.04 22.73" fill="#000000" stroke="#000000">00:00</text>
<text class="x n" transform="translate(88 397.3) rotate(-90) scale(0.88 1)" x="-0.00 5.68 12.56 17.04 22.73" fill="#000000" stroke="#000000">00:30</text>
<text class="x n" transform="translate(104 397.3) rotate(-90) scale(0.88 1)" x="-0.00 5.68 12.56 17.04 22.73" fill="#000000" stroke="#000000">01:00</text>
<text class="x n" transform="translate(120 397.3) rotate(-90) scale(0.88 1)" x="-0.00 5.68 12.56 17.04 22.73" fill="#000000" stroke="#000000">01:30</text>
<text class="x n" transform="translate(135 397.3) rotate(-90) scale(0.88 1)" x="-0.00 5.68 12.56 17.04 22.73" fill="#000000" stroke="#000000">02:00</text>
<text class="x n" transform="translate(151 397.3) rotate(-90) scale(0.88 1)" x="-0.00 5.68 12.56 17.04 22.73" fill="#000000" stroke="#000000">02:30</text>
<text class="x n" transform="translate(167 397.3) rotate(-90) scale(0.88 1)" x="-0.00 5.68 12.56 17.04 22.73" fill="#000000" stroke="#000000">03:00</text>
<text class="x n" transform="translate(183 397.3) rotate(-90) scale(0.88 1)" x="-0.00 5.68 12.56 17.04 22.73" fill="#000000" stroke="#000000">03:30</text>
<text class="x n" transform="translate(198 397.3) rotate(-90) scale(0.88 1)" x="-0.00 5.68 12.56 17.04 22.73" fill="#000000" stroke="#000000">04:00</text>
<text class="x n" transform="translate(214 397.3) rotate(-90) scale(0.88 1)" x="-0.00 5.68 12.56 17.04 22.73" fill="#000000" stroke="#000000">04:30</text>
<text class="x n" transform="translate(230 397.3) rotate(-90) scale(0.88 1)" x="-0.00 5.68 12.56 17.04 22.73" fill="#000000" stroke="#000000">05:00</text>
<text class="x n" transform="translate(246 397.3) rotate(-90) scale(0.88 1)" x="-0.00 5.68 12.56 17.04 22.73" fill="#000000" stroke="#000000">05:30</text>
<text class="x n" transform="translate(261 397.3) rotate(-90) scale(0.88 1)" x="-0.00 5.68 12.56 17.04 22.73" fill="#000000" stroke="#000000">06:00</text>
<text class="x n" transform="translate(277 397.3) rotate(-90) scale(0.88 1)" x="-0.00 5.68 12.56 17.04 22.73" fill="#000000" stroke="#000000">06:30</text>
<text class="x n" transform="translate(293 397.3) rotate(-90) scale(0.88 1)" x="-0.00 5.68 12.56 17.04 22.73" fill="#000000" stroke="#000000">07:00</text>
<text class="x n" transform="translate(309 397.3) rotate(-90) scale(0.88 1)" x="-0.00 5.68 12.56 17.04 22.73" fill="#000000" stroke="#000000">07:30</text>
<text class="x n" transform="translate(324 397.3) rotate(-90) scale(0.88 1)" x="-0.00 5.68 12.56 17.04 22.73" fill="#000000" stroke="#000000">08:00</text>
<text class="x n" transform="translate(340 397.3) rotate(-90) scale(0.88 1)" x="-0.00 5.68 12.56 17.04 22.73" fill="#000000" stroke="#000000">08:30</text>
<text class="x n" transform="translate(356 397.3) rotate(-90) scale(0.88 1)" x="-0.00 5.68 12.56 17.04 22.73" fill="#000000" stroke="#000000">09:00</text>
<text class="x n" transform="translate(372 397.3) rotate(-90) scale(0.88 1)" x="-0.00 5.68 12.56 17.04 22.73" fill="#000000" stroke="#000000">09:30</text>
<text class="x n" transform="translate(387 397.3) rotate(-90) scale(0.88 1)" x="-0.00 5.68 12.56 17.04 22.73" fill="#000000" stroke="#000000">10:00</text>
<text class="x n" transform="translate(403 397.3) rotate(-90) scale(0.88 1)" x="-0.00 5.68 12.56 17.04 22.73" fill="#000000" stroke="#000000">10:30</text>
<text class="x n" transform="translate(419 397.3) rotate(-90) scale(0.88 1)" x="-0.00 5.68 12.56 17.04 22.73" fill="#000000" stroke="#000000">11:00</text>
<text class="x n" transform="translate(435 397.3) rotate(-90) scale(0.88 1)" x="-0.00 5.68 12.56 17.04 22.73" fill="#000000" stroke="#000000">11:30</text>
<text class="x n" transform="translate(450 397.3) rotate(-90) scale(0.88 1)" x="-0.00 5.68 12.56 17.04 22.73" fill="#000000" stroke="#000000">12:00</text>
<text class="x n" transform="translate(466 397.3) rotate(-90) scale(0.88 1)" x="-0.00 5.68 12.56 17.04 22.73" fill="#000000" stroke="#000000">12:30</text>
<text class="x n" transform="translate(482 397.3) rotate(-90) scale(0.88 1)" x="-0.00 5.68 12.56 17.04 22.73" fill="#000000" stroke="#000000">13:00</text>
<text class="x n" transform="translate(498 397.3) rotate(-90) scale(0.88 1)" x="-0.00 5.68 12.56 17.04 22.73" fill="#000000" stroke="#000000">13:30</text>
<text class="x n" transform="translate(513 397.3) rotate(-90) scale(0.88 1)" x="-0.00 5.68 12.56 17.04 22.73" fill="#000000" stroke="#000000">14:00</text>
<text class="x n" transform="translate(529 397.3) rotate(-90) scale(0.88 1)" x="-0.00 5.68 12.56 17.04 22.73" fill="#000000" stroke="#000000">14:30</text>
<text class="x n" transform="translate(545 397.3) rotate(-90) scale(0.88 1)" x="-0.00 5.68 12.56 17.04 22.73" fill="#000000" stroke="#000000">15:00</text>
<text class="x n" transform="translate(561 397.3) rotate(-90) scale(0.88 1)" x="-0.00 5.68 12.56 17.04 22.73" fill="#000000" stroke="#000000">15:30</text>
<text class="x n" transform="translate(576 397.3) rotate(-90) scale(0.88 1)" x="-0.00 5.68 12.56 17.04 22.73" fill="#000000" stroke="#000000">16:00</text>
<text class="x n" transform="translate(592 397.3) rotate(-90) scale(0.88 1)" x="-0.00 5.68 12.56 17.04 22.73" fill="#000000" stroke="#000000">16:30</text>
<text class="x n" transform="translate(608 397.3) rotate(-90) scale(0.88 1)" x="-0.00 5.68 12.56 17.04 22.73" fill="#000000" stroke="#000000">17:00</text>
<text class="x n" transform="translate(623 397.3) rotate(-90) scale(0.88 1)" x="-0.00 5.68 12.56 17.04 22.73" fill="#000000" stroke="#000000">17:30</text>
<text class="x n" transform="translate(639 397.3) rotate(-90) scale(0.88 1)" x="-0.00 5.68 12.56 17.04 22.73" fill="#000000" stroke="#000000">18:00</text>
<text class="x n" transform="translate(655 397.3) rotate(-90) scale(0.88 1)" x="-0.00 5.68 12.56 17.04 22.73" fill="#000000" stroke="#000000">18:30</text>
<text class="x n" transform="translate(671 397.3) rotate(-90) scale(0.88 1)" x="-0.00 5.68 12.56 17.04 22.73" fill="#000000" stroke="#000000">19:00</text>
<text class="x n" transform="translate(686 397.3) rotate(-90) scale(0.88 1)" x="-0.00 5.68 12.56 17.04 22.73" fill="#000000" stroke="#000000">19:30</text>
<text class="x n" transform="translate(702 397.3) rotate(-90) scale(0.88 1)" x="-0.00 5.68 12.56 17.04 22.73" fill="#000000" stroke="#000000">20:00</text>
<text class="x n" transform="translate(718 397.3) rotate(-90) scale(0.88 1)" x="-0.00 5.68 12.56 17.04 22.73" fill="#000000" stroke="#000000">20:30</text>
<text class="x n" transform="translate(734 397.3) rotate(-90) scale(0.88 1)" x="-0.00 5.68 12.56 17.04 22.73" fill="#000000" stroke="#000000">21:00</text>
<text class="x n" transform="translate(749 397.3) rotate(-90) scale(0.88 1)" x="-0.00 5.68 12.56 17.04 22.73" fill="#000000" stroke="#000000">21:30</text>
<text class="x n" transform="translate(765 397.3) rotate(-90) scale(0.88 1)" x="-0.00 5.68 12.56 17.04 22.73" fill="#000000" stroke="#000000">22:00</text>
<text class="x n" transform="translate(781 397.3) rotate(-90) scale(0.88 1)" x="-0.00 5.68 12.56 17.04 22.73" fill="#000000" stroke="#000000">22:30</text>
<text class="x n" transform="translate(797 397.3) rotate(-90) scale(0.88 1)" x="-0.00 5.68 12.56 17.04 22.73" fill="#000000" stroke="#000000">23:00</text>
<text class="x n" transform="translate(812 397.3) rotate(-90) scale(0.88 1)" x="-0.00 5.68 12.56 17.04 22.73" fill="#000000" stroke="#000000">23:30</text>
<circle cx="240.5" cy="360.5" r="3.8" fill="#ffff00" stroke="#000" stroke-width="1"/>
<circle cx="720.5" cy="360.5" r="3.8" fill="#ffff00" stroke="#000" stroke-width="1"/>
<circle cx="96.5" cy="360.5" r="3.6" fill="#000"/>
<circle cx="328.5" cy="360.5" r="3.6" fill="#000"/>
<g shape-rendering="crispEdges">
<rect x="96" y="356" width="1" height="10" fill="#000000"/>
<rect x="328" y="356" width="1" height="9" fill="#000000"/>
<rect x="90" y="354" width="1" height="12" fill="#000000"/>
<rect x="89" y="364" width="3" height="1" fill="#000000"/>
<rect x="88" y="363" width="1" height="1" fill="#000000"/>
<rect x="92" y="363" width="1" height="1" fill="#000000"/>
<rect x="334" y="354" width="1" height="11" fill="#000000"/>
<rect x="333" y="355" width="3" height="1" fill="#000000"/>
<rect x="332" y="356" width="1" height="1" fill="#000000"/>
<rect x="336" y="356" width="1" height="1" fill="#000000"/>
</g>
<g shape-rendering="crispEdges">
<rect x="10" y="9" width="11" height="2" fill="#ff0000"/>
<rect x="70" y="9" width="11" height="2" fill="#ff00ff"/>
<rect x="175" y="9" width="11" height="2" fill="#9400d3"/>
<rect x="235" y="9" width="11" height="2" fill="#228b22"/>
<rect x="280" y="9" width="11" height="2" fill="#00bfff"/>
<rect x="335" y="9" width="11" height="2" fill="#000000"/>
<rect x="430" y="9" width="11" height="2" fill="#0000cd"/>
<rect x="510" y="9" width="11" height="2" fill="#696969"/>
</g>
<text transform="translate(24.8 12) scale(0.88 1)" fill="#000000" stroke="#000000">Teplota</text>
<text transform="translate(84.8 12) scale(0.88 1)" fill="#000000" stroke="#000000">Přízemní teplota</text>
<text transform="translate(189.8 12) scale(0.88 1)" fill="#000000" stroke="#000000">Vlhkost</text>
<text transform="translate(249.8 12) scale(0.88 1)" fill="#000000" stroke="#000000">Tlak</text>
<text transform="translate(294.8 12) scale(0.88 1)" fill="#000000" stroke="#000000">Srážky</text>
<text transform="translate(349.8 12) scale(0.88 1)" fill="#000000" stroke="#000000">Rychlost větru</text>
<text transform="translate(444.8 12) scale(0.88 1)" fill="#000000" stroke="#000000">Náraz větru</text>
<text transform="translate(524.8 12) scale(0.88 1)" fill="#000000" stroke="#000000">Směr větru</text>
<text transform="translate(79.8 27) scale(0.88 1)" fill="#000000" stroke="#000000">max</text>
<text transform="translate(79.8 37) scale(0.88 1)" fill="#000000" stroke="#000000">min</text>
<text transform="translate(79.8 47) scale(0.88 1)" fill="#000000" stroke="#000000">avg</text>
<text class="n" transform="translate(99.8 27) scale(0.88 1)" x="-0.00 5.68 12.56 17.04" fill="#ff0000" stroke="#ff0000">17.2</text>
<text transform="translate(119.8 27) scale(0.88 1)" fill="#ff0000" stroke="#ff0000">°C</text>
<text class="n" transform="translate(104.8 37) scale(0.88 1)" x="-0.00 6.88 11.36" fill="#0000cd" stroke="#0000cd">6.1</text>
<text transform="translate(119.8 37) scale(0.88 1)" fill="#0000cd" stroke="#0000cd">°C</text>
<text class="n" transform="translate(99.8 47) scale(0.88 1)" x="-0.00 5.68 12.56 17.04" fill="#000000" stroke="#000000">12.2</text>
<text transform="translate(119.8 47) scale(0.88 1)" fill="#000000" stroke="#000000">°C</text>
<text class="n" transform="translate(139.8 27) scale(0.88 1)" x="-0.00 5.68" fill="#ff0000" stroke="#ff0000">84</text>
<text transform="translate(149.8 27) scale(0.88 1)" fill="#ff0000" stroke="#ff0000">%</text>
<text class="n" transform="translate(139.8 37) scale(0.88 1)" x="-0.00 5.68" fill="#0000cd" stroke="#0000cd">55</text>
<text transform="translate(149.8 37) scale(0.88 1)" fill="#0000cd" stroke="#0000cd">%</text>
<text class="n" transform="translate(164.8 27) scale(0.88 1)" x="-0.00 5.68 11.36 17.04 23.92 28.41" fill="#ff0000" stroke="#ff0000">1018.7</text>
<text transform="translate(194.8 27) scale(0.88 1)" fill="#ff0000" stroke="#ff0000">hPa</text>
<text class="n" transform="translate(164.8 37) scale(0.88 1)" x="-0.00 5.68 11.36 17.04 23.92 28.41" fill="#0000cd" stroke="#0000cd">1014.3</text>
<text transform="translate(194.8 37) scale(0.88 1)" fill="#0000cd" stroke="#0000cd">hPa</text>
<text class="n" transform="translate(224.8 27) scale(0.88 1)" x="-0.00 6.88 11.36" fill="#00bfff" stroke="#00bfff">0.0</text>
<text transform="translate(239.8 27) scale(0.88 1)" fill="#00bfff" stroke="#00bfff">mm</text>
<text transform="translate(522.8 27) scale(0.88 1)" fill="#000000" stroke="#000000">WS:</text>
<text class="n" transform="translate(537.8 27) scale(0.88 1)" x="-0.00 6.88 11.36" fill="#000000" stroke="#000000">4.1</text>
<text transform="translate(552.8 27) scale(0.88 1)" fill="#000000" stroke="#000000">m/s</text>
<text transform="translate(592.8 27) scale(0.88 1)" fill="#000000" stroke="#000000">WG:</text>
<text class="n" transform="translate(607.8 27) scale(0.88 1)" x="-0.00 6.88 11.36" fill="#000000" stroke="#000000">4.1</text>
<text transform="translate(622.8 27) scale(0.88 1)" fill="#000000" stroke="#000000">m/s</text>
<text transform="translate(487.8 37) scale(0.88 1)" fill="#000000" stroke="#000000">Slunce</text>
<text transform="translate(522.8 37) scale(0.88 1)" fill="#000000" stroke="#000000">Východ:</text>
<text class="n" transform="translate(557.8 37) scale(0.88 1)" x="-0.00 5.68 12.56 17.04 22.73" fill="#000000" stroke="#000000">05:26</text>
<text transform="translate(592.8 37) scale(0.88 1)" fill="#000000" stroke="#000000">Západ:</text>
<text class="n" transform="translate(622.8 37) scale(0.88 1)" x="-0.00 5.68 12.56 17.04 22.73" fill="#000000" stroke="#000000">20:41</text>
<text transform="translate(487.8 47) scale(0.88 1)" fill="#000000" stroke="#000000">Měsíc</text>
<text transform="translate(522.8 47) scale(0.88 1)" fill="#000000" stroke="#000000">Východ:</text>
<text class="n" transform="translate(557.8 47) scale(0.88 1)" x="-0.00 6.88 11.36 17.04" fill="#000000" stroke="#000000">8:27</text>
<text transform="translate(592.8 47) scale(0.88 1)" fill="#000000" stroke="#000000">Západ:</text>
<text class="n" transform="translate(622.8 47) scale(0.88 1)" x="-0.00 6.88 11.36 17.04" fill="#000000" stroke="#000000">0:39</text>
<text class="t" transform="translate(417.2 61.2) scale(0.88 1)" fill="#000000" stroke="#000000">13.5.2024</text>
<g shape-rendering="crispEdges">
<rect x="0" y="0" width="900" height="1" fill="#000000"/>
<rect x="0" y="399" width="900" height="1" fill="#000000"/>
<rect x="0" y="0" width="1" height="400" fill="#000000"/>
<rect x="899" y="0" width="1" height="400" fill="#000000"/>
</g>
</svg></body></html>
